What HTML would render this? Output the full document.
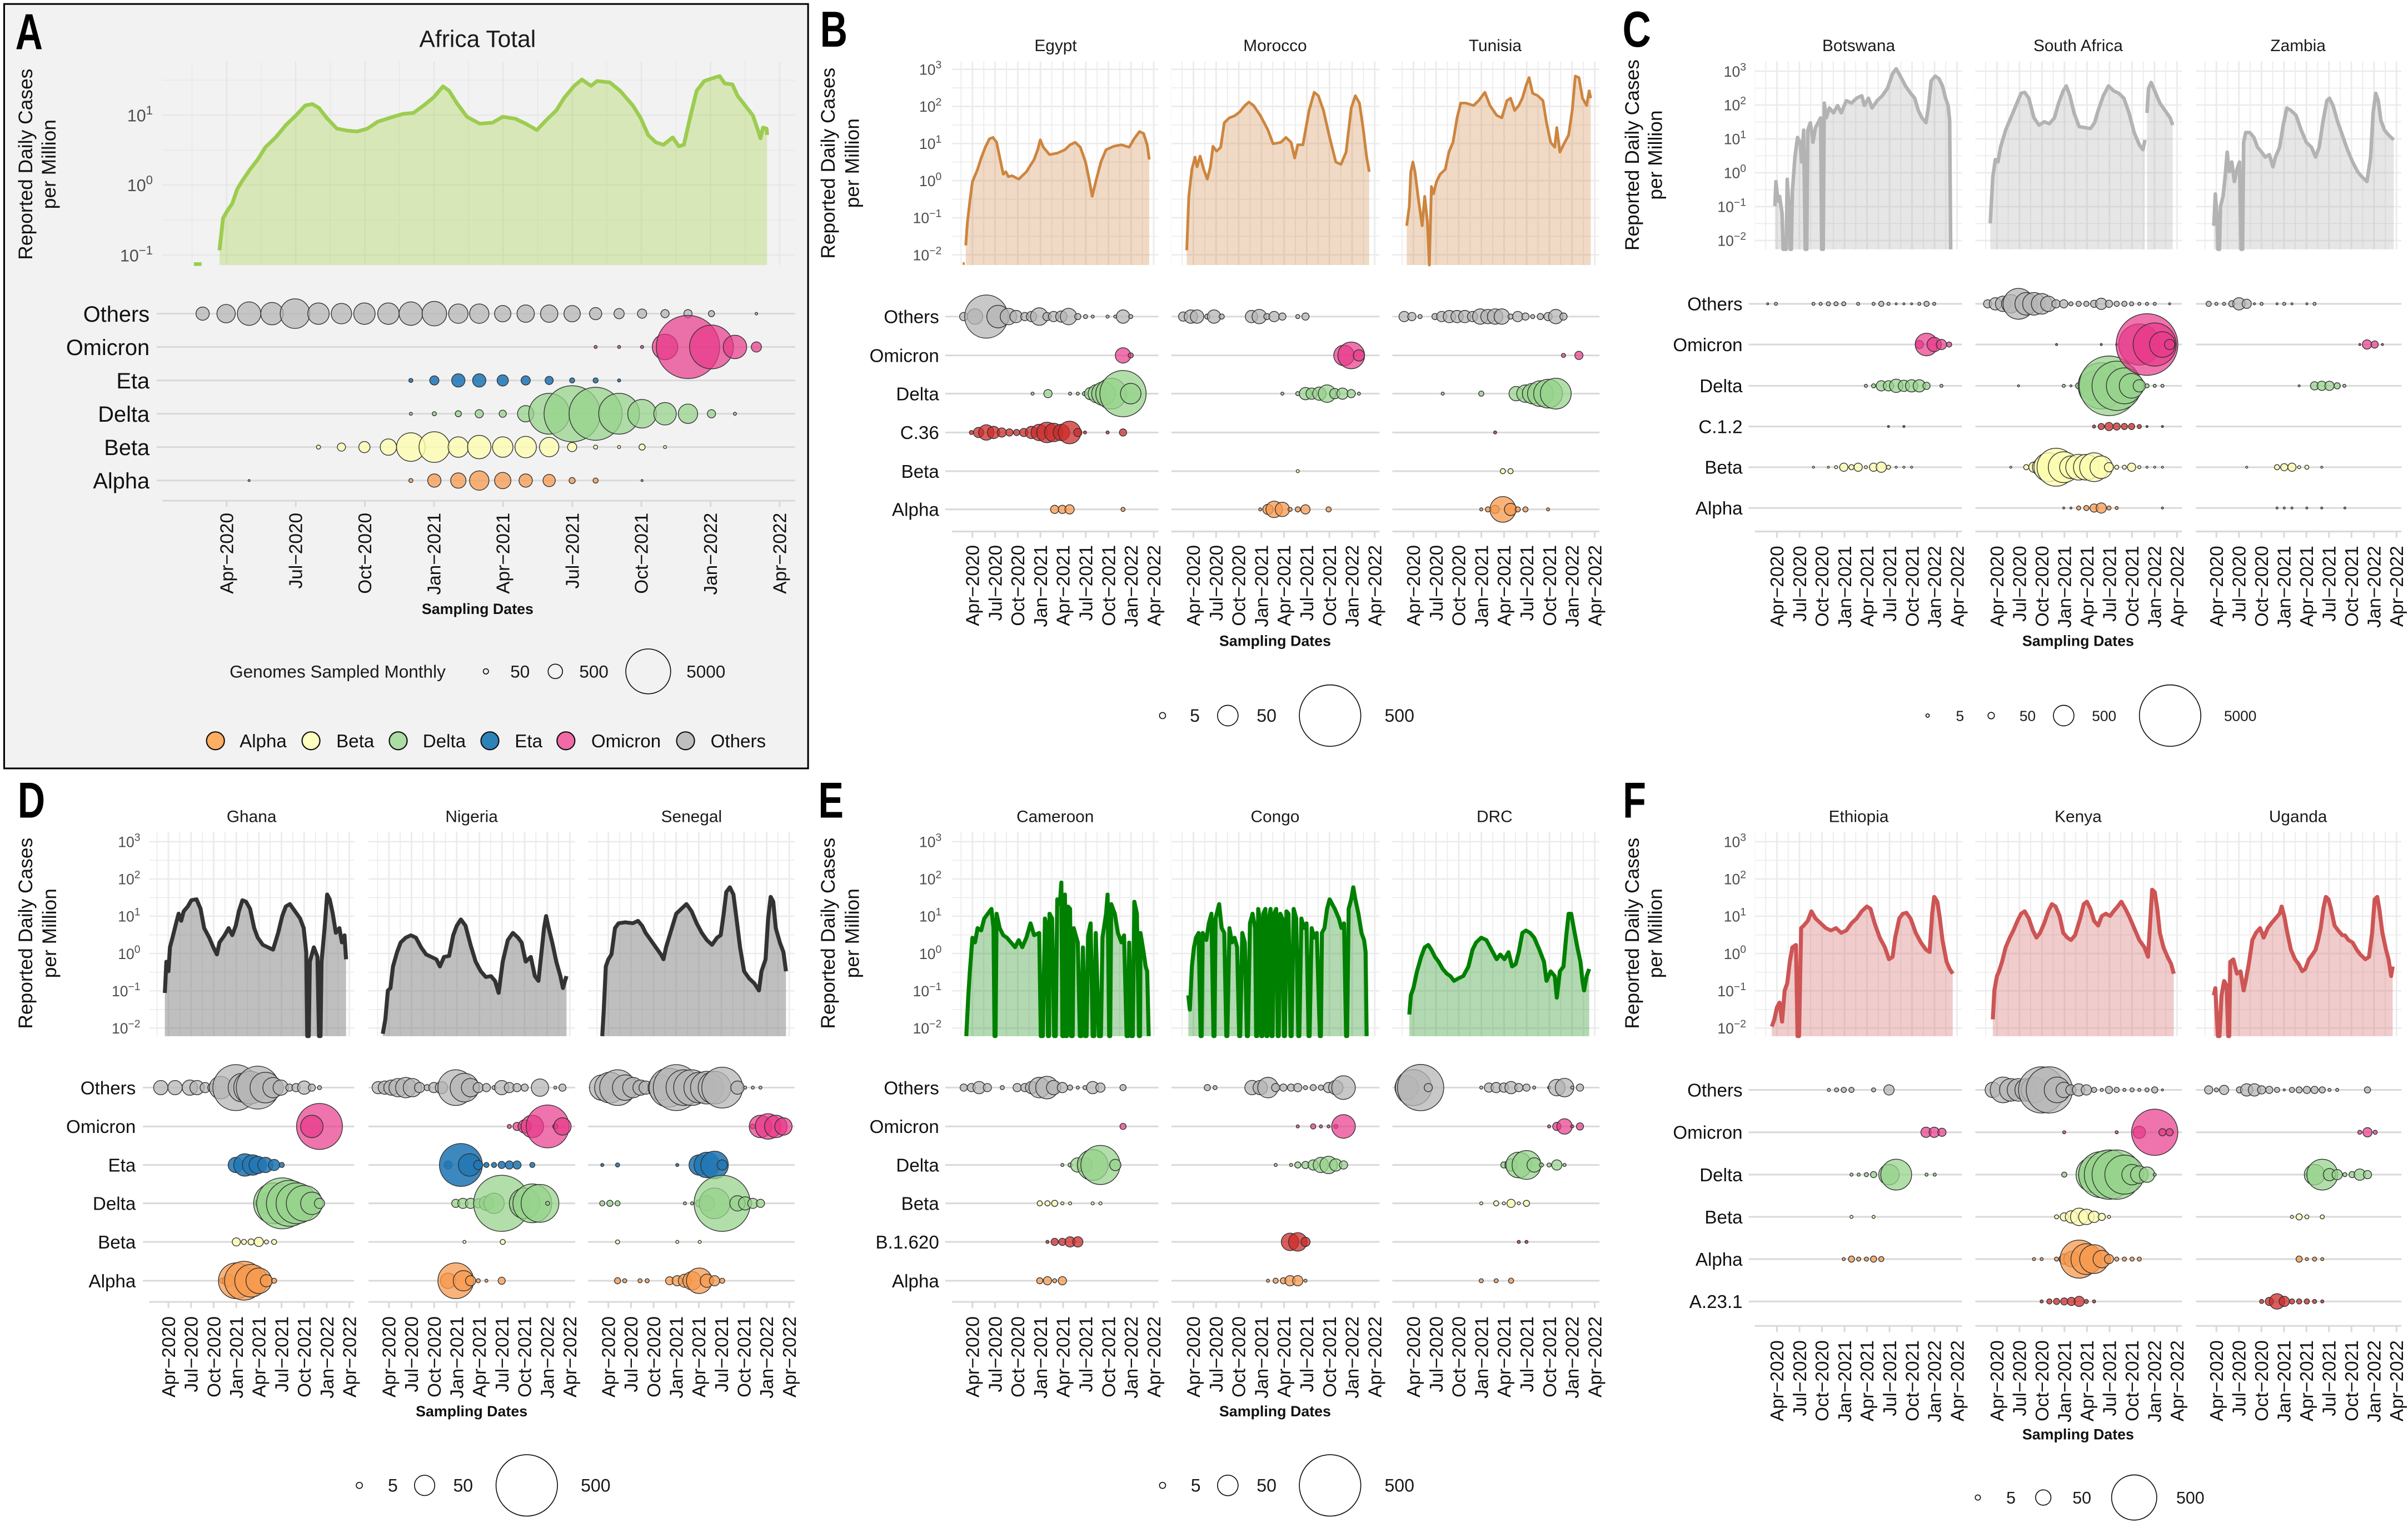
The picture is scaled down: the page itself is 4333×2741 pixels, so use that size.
<!DOCTYPE html>
<html><head><meta charset="utf-8"><title>Africa variants</title>
<style>
html,body{margin:0;padding:0;background:#fff}
svg{display:block}
text{font-family:"Liberation Sans",Arial,Helvetica,sans-serif}
.bb circle{stroke:#333;stroke-width:1.5}
.lg circle{stroke:#111;stroke-width:.6;fill:none}
.xt text{font-size:12.1px;fill:#111}
.yt text{font-size:9.6px;fill:#4d4d4d}
.rl text{font-size:12px;fill:#111}
.ft{font-size:10.8px;fill:#1a1a1a}
.sd{font-size:9.7px;font-weight:bold;fill:#111}
.yl{font-size:12.8px;fill:#111}
.pl{font-size:33px;font-weight:bold;fill:#000}
</style></head><body>
<svg xmlns="http://www.w3.org/2000/svg" width="4333" height="2741" viewBox="0 0 1568 992" preserveAspectRatio="none">
<defs>
<pattern id="pA" width="135.45" height="142.5" patternUnits="userSpaceOnUse"><g fill="#e6e6e6"><rect x="-1.3" width="2.6" height="142.5"/><rect x="134.15" width="2.6" height="142.5"/><rect x="67.0" width="1.4" height="142.5"/><rect y="-1.3" height="2.6" width="135.45"/><rect y="141.2" height="2.6" width="135.45"/><rect y="70.55" height="1.4" width="135.45"/></g></pattern>
<pattern id="pB" width="44.1" height="75.6" patternUnits="userSpaceOnUse"><g fill="#ebebeb"><rect x="-1.5" width="3" height="75.6"/><rect x="42.6" width="3" height="75.6"/><rect x="21.15" width="1.8" height="75.6"/><rect y="-1.5" height="3" width="44.1"/><rect y="74.1" height="3" width="44.1"/><rect y="36.9" height="1.8" width="44.1"/></g></pattern>
<pattern id="pC" width="43.8" height="69" patternUnits="userSpaceOnUse"><g fill="#ebebeb"><rect x="-1.5" width="3" height="69"/><rect x="42.3" width="3" height="69"/><rect x="21.0" width="1.8" height="69"/><rect y="-1.5" height="3" width="43.8"/><rect y="67.5" height="3" width="43.8"/><rect y="33.6" height="1.8" width="43.8"/></g></pattern>
<pattern id="pD" width="44.31" height="77.6" patternUnits="userSpaceOnUse"><g fill="#ebebeb"><rect x="-1.5" width="3" height="77.6"/><rect x="42.81" width="3" height="77.6"/><rect x="21.25" width="1.8" height="77.6"/><rect y="-1.5" height="3" width="44.31"/><rect y="76.1" height="3" width="44.31"/><rect y="37.9" height="1.8" width="44.31"/></g></pattern>
<pattern id="pE" width="44.1" height="77.6" patternUnits="userSpaceOnUse"><g fill="#ebebeb"><rect x="-1.5" width="3" height="77.6"/><rect x="42.6" width="3" height="77.6"/><rect x="21.15" width="1.8" height="77.6"/><rect y="-1.5" height="3" width="44.1"/><rect y="76.1" height="3" width="44.1"/><rect y="37.9" height="1.8" width="44.1"/></g></pattern>
<pattern id="pF" width="43.8" height="77.6" patternUnits="userSpaceOnUse"><g fill="#ebebeb"><rect x="-1.5" width="3" height="77.6"/><rect x="42.3" width="3" height="77.6"/><rect x="21.0" width="1.8" height="77.6"/><rect y="-1.5" height="3" width="43.8"/><rect y="76.1" height="3" width="43.8"/><rect y="37.9" height="1.8" width="43.8"/></g></pattern>
</defs>
<rect width="1568" height="992" fill="#fff"/>
<rect x="2.7" y="2.6" width="523.5" height="497.9" fill="#f2f2f2" stroke="#000" stroke-width="1.1"/>

<!-- ================= PANEL A ================= -->
<g transform="scale(0.33234,0.31969)">
<g transform="translate(444,377)"><rect x="-126" y="-252" width="1240" height="415" fill="url(#pA)"/></g>
<path d="M380,538H395" stroke="#9ccc50" stroke-width="7.5"/>
<polygon fill="#9acd32" fill-opacity=".3" points="430,510 437,445 445,430 455,415 465,385 475,368 490,345 505,325 520,300 540,280 560,255 580,235 598,215 612,212 625,220 640,240 660,262 680,266 700,268 720,262 740,248 770,238 790,232 810,230 830,215 850,198 868,176 880,185 895,210 915,238 940,252 965,250 985,238 1010,242 1030,252 1052,265 1070,245 1090,225 1105,200 1125,175 1140,162 1158,175 1170,165 1195,168 1215,185 1240,215 1255,240 1270,275 1285,290 1300,295 1318,280 1330,298 1340,295 1352,240 1365,185 1380,165 1400,158 1410,155 1420,170 1435,172 1445,195 1460,215 1475,235 1485,265 1490,282 1495,260 1502,262 1503,275 1503,540 430,540"/>
<polyline fill="none" stroke="#9ccc50" stroke-width="7.5" stroke-linejoin="round" points="430,510 437,445 445,430 455,415 465,385 475,368 490,345 505,325 520,300 540,280 560,255 580,235 598,215 612,212 625,220 640,240 660,262 680,266 700,268 720,262 740,248 770,238 790,232 810,230 830,215 850,198 868,176 880,185 895,210 915,238 940,252 965,250 985,238 1010,242 1030,252 1052,265 1070,245 1090,225 1105,200 1125,175 1140,162 1158,175 1170,165 1195,168 1215,185 1240,215 1255,240 1270,275 1285,290 1300,295 1318,280 1330,298 1340,295 1352,240 1365,185 1380,165 1400,158 1410,155 1420,170 1435,172 1445,195 1460,215 1475,235 1485,265 1490,282 1495,260 1502,262 1503,275"/>
</g>
<g class="bb" transform="scale(0.33234)">
<path fill="none" stroke="#d9d9d9" stroke-width="3.3" d="M307,614.7H1558M307,680H1558M307,745.6H1558M307,810.9H1558M307,876.2H1558M307,941.8H1558M318,981.3H1558M444,981.3v12M579.5,981.3v12M714.9,981.3v12M850.4,981.3v12M985.8,981.3v12M1121.3,981.3v12M1256.7,981.3v12M1392.2,981.3v12M1527.6,981.3v12"/>
<g fill="#b6b6b6" fill-opacity=".75"><circle cx="397" cy="614.7" r="13"/><circle cx="443" cy="614.7" r="18"/><circle cx="488" cy="614.7" r="23"/><circle cx="533" cy="614.7" r="22"/><circle cx="578" cy="614.7" r="29"/><circle cx="624" cy="614.7" r="21"/><circle cx="669" cy="614.7" r="20"/><circle cx="714" cy="614.7" r="21"/><circle cx="761" cy="614.7" r="21"/><circle cx="805" cy="614.7" r="23"/><circle cx="851" cy="614.7" r="24"/><circle cx="898" cy="614.7" r="19"/><circle cx="939" cy="614.7" r="19"/><circle cx="985" cy="614.7" r="16"/><circle cx="1030" cy="614.7" r="17"/><circle cx="1076" cy="614.7" r="17"/><circle cx="1121" cy="614.7" r="16"/><circle cx="1167" cy="614.7" r="12"/><circle cx="1213" cy="614.7" r="10"/><circle cx="1258" cy="614.7" r="9"/><circle cx="1303" cy="614.7" r="8"/><circle cx="1348" cy="614.7" r="8"/><circle cx="1394" cy="614.7" r="6"/><circle cx="1482" cy="614.7" r="2.5"/></g>
<g fill="#2277b5" fill-opacity=".88"><circle cx="805" cy="745.6" r="4"/><circle cx="851" cy="745.6" r="9"/><circle cx="898" cy="745.6" r="13"/><circle cx="939" cy="745.6" r="13"/><circle cx="985" cy="745.6" r="11"/><circle cx="1030" cy="745.6" r="9"/><circle cx="1076" cy="745.6" r="8"/><circle cx="1121" cy="745.6" r="5"/><circle cx="1167" cy="745.6" r="5"/><circle cx="1213" cy="745.6" r="3"/></g>
<g fill="#97d38c" fill-opacity=".75"><circle cx="805" cy="810.9" r="3"/><circle cx="851" cy="810.9" r="4"/><circle cx="898" cy="810.9" r="6"/><circle cx="939" cy="810.9" r="8"/><circle cx="985" cy="810.9" r="7"/><circle cx="1030" cy="810.9" r="16"/><circle cx="1076" cy="810.9" r="40"/><circle cx="1121" cy="810.9" r="55"/><circle cx="1167" cy="810.9" r="52"/><circle cx="1213" cy="810.9" r="40"/><circle cx="1258" cy="810.9" r="28"/><circle cx="1303" cy="810.9" r="22"/><circle cx="1348" cy="810.9" r="19"/><circle cx="1394" cy="810.9" r="8"/><circle cx="1440" cy="810.9" r="3"/></g>
<g fill="#fcfcb0" fill-opacity=".8"><circle cx="624" cy="876.2" r="4"/><circle cx="669" cy="876.2" r="8"/><circle cx="714" cy="876.2" r="11"/><circle cx="761" cy="876.2" r="16"/><circle cx="805" cy="876.2" r="28"/><circle cx="851" cy="876.2" r="30"/><circle cx="898" cy="876.2" r="20"/><circle cx="939" cy="876.2" r="23"/><circle cx="985" cy="876.2" r="20"/><circle cx="1030" cy="876.2" r="21"/><circle cx="1076" cy="876.2" r="19"/><circle cx="1121" cy="876.2" r="9"/><circle cx="1167" cy="876.2" r="4"/><circle cx="1213" cy="876.2" r="3"/><circle cx="1258" cy="876.2" r="6"/><circle cx="1303" cy="876.2" r="3"/></g>
<g fill="#f79a4e" fill-opacity=".75"><circle cx="488" cy="941.8" r="2"/><circle cx="805" cy="941.8" r="4"/><circle cx="851" cy="941.8" r="13"/><circle cx="898" cy="941.8" r="15"/><circle cx="939" cy="941.8" r="19"/><circle cx="985" cy="941.8" r="16"/><circle cx="1030" cy="941.8" r="13"/><circle cx="1076" cy="941.8" r="12"/><circle cx="1121" cy="941.8" r="6"/><circle cx="1167" cy="941.8" r="5"/><circle cx="1258" cy="941.8" r="2"/></g>
<g fill="#e83889" fill-opacity=".7"><circle cx="1167" cy="680" r="3"/><circle cx="1213" cy="680" r="3"/><circle cx="1258" cy="680" r="3"/><circle cx="1303" cy="680" r="25"/><circle cx="1348" cy="680" r="62"/><circle cx="1394" cy="680" r="43"/><circle cx="1440" cy="680" r="23"/><circle cx="1482" cy="680" r="10"/></g>
</g>
<text class="pl" transform="translate(10,32) scale(0.75,1)">A</text>
<text x="311" y="30.5" text-anchor="middle" style="font-size:15.4px;fill:#1a1a1a">Africa Total</text>
<text class="yl" text-anchor="middle" transform="translate(20.9,107) rotate(-90)">Reported Daily Cases</text>
<text class="yl" text-anchor="middle" transform="translate(36.2,107) rotate(-90)">per Million</text>
<g text-anchor="end" style="font-size:11px;fill:#4d4d4d"><text x="99.5" y="79.1">10<tspan dy="-4.5" font-size="8">1</tspan></text><text x="99.5" y="124.5">10<tspan dy="-4.5" font-size="8">0</tspan></text><text x="99.5" y="170.2">10<tspan dy="-4.5" font-size="8">−1</tspan></text></g>
<g text-anchor="end" style="font-size:14.4px;fill:#111"><text x="97.4" y="209.5">Others</text><text x="97.4" y="231.2">Omicron</text><text x="97.4" y="253">Eta</text><text x="97.4" y="274.7">Delta</text><text x="97.4" y="296.4">Beta</text><text x="97.4" y="318.2">Alpha</text></g>
<g class="xt" text-anchor="end"><text transform="translate(147.5,334) rotate(-90)" dy=".35em">Apr−2020</text><text transform="translate(192.5,334) rotate(-90)" dy=".35em">Jul−2020</text><text transform="translate(237.5,334) rotate(-90)" dy=".35em">Oct−2020</text><text transform="translate(282.5,334) rotate(-90)" dy=".35em">Jan−2021</text><text transform="translate(327.5,334) rotate(-90)" dy=".35em">Apr−2021</text><text transform="translate(372.6,334) rotate(-90)" dy=".35em">Jul−2021</text><text transform="translate(417.6,334) rotate(-90)" dy=".35em">Oct−2021</text><text transform="translate(462.6,334) rotate(-90)" dy=".35em">Jan−2022</text><text transform="translate(507.6,334) rotate(-90)" dy=".35em">Apr−2022</text></g>
<text class="sd" x="311" y="400" text-anchor="middle">Sampling Dates</text>
<g class="lg" style="font-size:11.4px;fill:#1a1a1a"><text x="149.5" y="441.4">Genomes Sampled Monthly</text><circle cx="316.4" cy="437.3" r="1.7"/><text x="332.3" y="441.4">50</text><circle cx="361.6" cy="437.3" r="4.7"/><text x="377.2" y="441.4">500</text><circle cx="422.1" cy="437.3" r="14.6"/><text x="447" y="441.4">5000</text></g>
<g stroke="#111" stroke-width=".8"><circle cx="140.3" cy="482.5" r="5.8" fill="#fdae61"/><circle cx="202.5" cy="482.5" r="5.8" fill="#ffffbf"/><circle cx="259.3" cy="482.5" r="5.8" fill="#abdda4"/><circle cx="319" cy="482.5" r="5.8" fill="#2b83ba"/><circle cx="368.5" cy="482.5" r="5.8" fill="#f06aa8"/><circle cx="446.4" cy="482.5" r="5.8" fill="#bebebe"/></g>
<g style="font-size:12px;fill:#111"><text x="156" y="486.8">Alpha</text><text x="219" y="486.8">Beta</text><text x="275.3" y="486.8">Delta</text><text x="335.2" y="486.8">Eta</text><text x="385" y="486.8">Omicron</text><text x="462.7" y="486.8">Others</text></g>

<!-- ================= PANEL B ================= -->
<g transform="translate(521.1,0) scale(0.33467,0.31969)">
<g transform="translate(335,368)"><rect x="-40" y="-243" width="402" height="415" fill="url(#pB)"/></g>
<g transform="translate(765,368)"><rect x="-43" y="-243" width="405" height="415" fill="url(#pB)"/></g>
<g transform="translate(1193,368)"><rect x="-41" y="-243" width="403" height="415" fill="url(#pB)"/></g>
<g fill="#cd853f" fill-opacity=".3">
<polygon points="322,500 325,455 330,410 335,370 345,345 352,322 360,300 368,283 375,280 382,290 390,330 395,355 400,350 405,360 412,358 425,365 440,350 455,325 462,305 467,285 473,300 485,315 500,312 515,305 525,295 535,290 545,300 555,330 562,365 568,400 575,370 585,330 595,305 610,298 625,295 640,300 650,282 660,268 668,272 675,295 679,325 679,540 322,540"/>
<polygon points="752,510 756,400 762,345 768,320 772,340 778,318 785,345 792,365 798,340 803,298 810,308 818,300 825,250 835,240 845,236 855,228 865,215 873,208 882,215 895,235 910,265 920,293 935,290 945,280 955,290 962,322 968,295 978,295 990,225 1000,188 1008,195 1018,225 1030,280 1042,330 1052,335 1062,310 1072,220 1080,195 1088,210 1095,260 1102,320 1107,350 1107,540 752,540"/>
<polygon points="1180,460 1185,420 1188,350 1192,330 1196,350 1202,400 1210,460 1215,400 1220,450 1224,540 1228,380 1232,395 1238,370 1245,355 1255,345 1262,310 1270,290 1278,240 1285,210 1295,210 1310,215 1320,205 1332,188 1342,215 1355,235 1365,240 1375,205 1382,200 1390,225 1398,215 1405,200 1412,175 1418,158 1425,190 1435,195 1445,205 1452,250 1460,290 1468,300 1472,260 1478,310 1485,295 1495,275 1502,225 1508,155 1515,158 1522,200 1530,215 1535,185 1538,200 1538,540 1180,540"/>
</g>
<g fill="none" stroke="#cd853f" stroke-width="5.4" stroke-linejoin="round">
<path d="M316,537h4"/>
<polyline points="322,500 325,455 330,410 335,370 345,345 352,322 360,300 368,283 375,280 382,290 390,330 395,355 400,350 405,360 412,358 425,365 440,350 455,325 462,305 467,285 473,300 485,315 500,312 515,305 525,295 535,290 545,300 555,330 562,365 568,400 575,370 585,330 595,305 610,298 625,295 640,300 650,282 660,268 668,272 675,295 679,325"/>
<polyline points="752,510 756,400 762,345 768,320 772,340 778,318 785,345 792,365 798,340 803,298 810,308 818,300 825,250 835,240 845,236 855,228 865,215 873,208 882,215 895,235 910,265 920,293 935,290 945,280 955,290 962,322 968,295 978,295 990,225 1000,188 1008,195 1018,225 1030,280 1042,330 1052,335 1062,310 1072,220 1080,195 1088,210 1095,260 1102,320 1107,350"/>
<polyline points="1180,460 1185,420 1188,350 1192,330 1196,350 1202,400 1210,460 1215,400 1220,450 1224,540 1228,380 1232,395 1238,370 1245,355 1255,345 1262,310 1270,290 1278,240 1285,210 1295,210 1310,215 1320,205 1332,188 1342,215 1355,235 1365,240 1375,205 1382,200 1390,225 1398,215 1405,200 1412,175 1418,158 1425,190 1435,195 1445,205 1452,250 1460,290 1468,300 1472,260 1478,310 1485,295 1495,275 1502,225 1508,155 1515,158 1522,200 1530,215 1535,185 1538,200"/>
</g>
</g>
<g class="bb" transform="translate(521.1,0) scale(0.33467)">
<path fill="none" stroke="#d9d9d9" stroke-width="3.3" d="M282,616.1H697M722,616.1H1127M1152,616.1H1555M282,691.7H697M722,691.7H1127M1152,691.7H1555M282,766.1H697M722,766.1H1127M1152,766.1H1555M282,841.7H697M722,841.7H1127M1152,841.7H1555M282,917H697M722,917H1127M1152,917H1555M282,991.4H697M722,991.4H1127M1152,991.4H1555M295,1034.4H697M722,1034.4H1127M1152,1034.4H1555M335,1034.4v12M379.1,1034.4v12M423.2,1034.4v12M467.3,1034.4v12M511.4,1034.4v12M555.5,1034.4v12M599.6,1034.4v12M643.7,1034.4v12M687.8,1034.4v12M765,1034.4v12M809.1,1034.4v12M853.2,1034.4v12M897.3,1034.4v12M941.4,1034.4v12M985.5,1034.4v12M1029.6,1034.4v12M1073.7,1034.4v12M1117.8,1034.4v12M1193,1034.4v12M1237.1,1034.4v12M1281.2,1034.4v12M1325.3,1034.4v12M1369.4,1034.4v12M1413.5,1034.4v12M1457.6,1034.4v12M1501.7,1034.4v12M1545.8,1034.4v12"/>
<g fill="#b6b6b6" fill-opacity=".75"><circle cx="318" cy="616.1" r="8"/><circle cx="340" cy="616.1" r="15"/><circle cx="362" cy="616.1" r="42"/><circle cx="385" cy="616.1" r="22"/><circle cx="405" cy="616.1" r="16"/><circle cx="420" cy="616.1" r="12"/><circle cx="437" cy="616.1" r="8"/><circle cx="450" cy="616.1" r="10"/><circle cx="465" cy="616.1" r="17"/><circle cx="480" cy="616.1" r="8"/><circle cx="493" cy="616.1" r="10"/><circle cx="508" cy="616.1" r="11"/><circle cx="522" cy="616.1" r="16"/><circle cx="540" cy="616.1" r="6"/><circle cx="555" cy="616.1" r="4"/><circle cx="569" cy="616.1" r="3"/><circle cx="598" cy="616.1" r="3"/><circle cx="613" cy="616.1" r="3"/><circle cx="628" cy="616.1" r="13"/><circle cx="643" cy="616.1" r="4"/>
<circle cx="745" cy="616.1" r="9"/><circle cx="760" cy="616.1" r="13"/><circle cx="772" cy="616.1" r="13"/><circle cx="792" cy="616.1" r="5"/><circle cx="805" cy="616.1" r="13"/><circle cx="820" cy="616.1" r="5"/><circle cx="878" cy="616.1" r="12"/><circle cx="893" cy="616.1" r="14"/><circle cx="908" cy="616.1" r="6"/><circle cx="922" cy="616.1" r="10"/><circle cx="938" cy="616.1" r="7"/><circle cx="968" cy="616.1" r="4"/><circle cx="983" cy="616.1" r="7"/>
<circle cx="1175" cy="616.1" r="10"/><circle cx="1190" cy="616.1" r="8"/><circle cx="1206" cy="616.1" r="4"/><circle cx="1235" cy="616.1" r="6"/><circle cx="1248" cy="616.1" r="10"/><circle cx="1263" cy="616.1" r="12"/><circle cx="1278" cy="616.1" r="12"/><circle cx="1293" cy="616.1" r="12"/><circle cx="1308" cy="616.1" r="10"/><circle cx="1323" cy="616.1" r="15"/><circle cx="1338" cy="616.1" r="14"/><circle cx="1352" cy="616.1" r="15"/><circle cx="1365" cy="616.1" r="15"/><circle cx="1382" cy="616.1" r="5"/><circle cx="1396" cy="616.1" r="10"/><circle cx="1411" cy="616.1" r="7"/><circle cx="1425" cy="616.1" r="4"/><circle cx="1440" cy="616.1" r="6"/><circle cx="1455" cy="616.1" r="8"/><circle cx="1470" cy="616.1" r="14"/><circle cx="1485" cy="616.1" r="7"/></g>
<g fill="#e83889" fill-opacity=".7"><circle cx="628" cy="691.7" r="15"/><circle cx="643" cy="691.7" r="5"/><circle cx="1058" cy="691.7" r="20"/><circle cx="1072" cy="691.7" r="26"/><circle cx="1087" cy="691.7" r="11"/><circle cx="1485" cy="691.7" r="4"/><circle cx="1515" cy="691.7" r="8"/></g>
<g fill="#97d38c" fill-opacity=".75"><circle cx="452" cy="766.1" r="3"/><circle cx="482" cy="766.1" r="8"/><circle cx="525" cy="766.1" r="3"/><circle cx="540" cy="766.1" r="3"/><circle cx="553" cy="766.1" r="4"/><circle cx="565" cy="766.1" r="12"/><circle cx="578" cy="766.1" r="18"/><circle cx="590" cy="766.1" r="23"/><circle cx="605" cy="766.1" r="30"/><circle cx="628" cy="766.1" r="45"/><circle cx="643" cy="766.1" r="20"/>
<circle cx="938" cy="766.1" r="3"/><circle cx="968" cy="766.1" r="4"/><circle cx="983" cy="766.1" r="12"/><circle cx="995" cy="766.1" r="11"/><circle cx="1010" cy="766.1" r="13"/><circle cx="1025" cy="766.1" r="17"/><circle cx="1040" cy="766.1" r="10"/><circle cx="1055" cy="766.1" r="11"/><circle cx="1072" cy="766.1" r="8"/><circle cx="1087" cy="766.1" r="3"/>
<circle cx="1250" cy="766.1" r="3"/><circle cx="1325" cy="766.1" r="5"/><circle cx="1393" cy="766.1" r="14"/><circle cx="1411" cy="766.1" r="17"/><circle cx="1425" cy="766.1" r="20"/><circle cx="1440" cy="766.1" r="25"/><circle cx="1455" cy="766.1" r="28"/><circle cx="1470" cy="766.1" r="30"/></g>
<g fill="#cc2b2a" fill-opacity=".75"><circle cx="333" cy="841.7" r="4"/><circle cx="347" cy="841.7" r="10"/><circle cx="362" cy="841.7" r="15"/><circle cx="376" cy="841.7" r="12"/><circle cx="392" cy="841.7" r="9"/><circle cx="407" cy="841.7" r="7"/><circle cx="421" cy="841.7" r="6"/><circle cx="435" cy="841.7" r="8"/><circle cx="450" cy="841.7" r="12"/><circle cx="465" cy="841.7" r="16"/><circle cx="480" cy="841.7" r="20"/><circle cx="493" cy="841.7" r="18"/><circle cx="508" cy="841.7" r="16"/><circle cx="524" cy="841.7" r="22"/><circle cx="540" cy="841.7" r="8"/><circle cx="554" cy="841.7" r="3"/><circle cx="598" cy="841.7" r="3"/><circle cx="628" cy="841.7" r="7"/><circle cx="1352" cy="841.7" r="3"/></g>
<g fill="#fcfcb0" fill-opacity=".8"><circle cx="968" cy="917" r="3"/><circle cx="1367" cy="917" r="5"/><circle cx="1382" cy="917" r="5"/></g>
<g fill="#f79a4e" fill-opacity=".75"><circle cx="495" cy="991.4" r="8"/><circle cx="510" cy="991.4" r="8"/><circle cx="524" cy="991.4" r="9"/><circle cx="628" cy="991.4" r="4"/>
<circle cx="895" cy="991.4" r="3"/><circle cx="910" cy="991.4" r="10"/><circle cx="922" cy="991.4" r="16"/><circle cx="938" cy="991.4" r="14"/><circle cx="953" cy="991.4" r="4"/><circle cx="968" cy="991.4" r="5"/><circle cx="983" cy="991.4" r="9"/><circle cx="1028" cy="991.4" r="5"/>
<circle cx="1325" cy="991.4" r="3"/><circle cx="1338" cy="991.4" r="5"/><circle cx="1352" cy="991.4" r="8"/><circle cx="1367" cy="991.4" r="25"/><circle cx="1382" cy="991.4" r="12"/><circle cx="1396" cy="991.4" r="5"/><circle cx="1411" cy="991.4" r="5"/><circle cx="1455" cy="991.4" r="3"/></g>
</g>
<text class="pl" transform="translate(534,30.4) scale(0.75,1)">B</text>
<g class="ft" text-anchor="middle"><text x="687.4" y="33.3">Egypt</text><text x="830.3" y="33.3">Morocco</text><text x="973.6" y="33.3">Tunisia</text></g>
<text class="yl" text-anchor="middle" transform="translate(543.6,106.3) rotate(-90)">Reported Daily Cases</text>
<text class="yl" text-anchor="middle" transform="translate(559.2,106.3) rotate(-90)">per Million</text>
<g class="yt" text-anchor="end"><text x="613.1" y="48.6">10<tspan dy="-4" font-size="7">3</tspan></text><text x="613.1" y="72.8">10<tspan dy="-4" font-size="7">2</tspan></text><text x="613.1" y="97">10<tspan dy="-4" font-size="7">1</tspan></text><text x="613.1" y="121.2">10<tspan dy="-4" font-size="7">0</tspan></text><text x="613.1" y="145.3">10<tspan dy="-4" font-size="7">−1</tspan></text><text x="613.1" y="169.5">10<tspan dy="-4" font-size="7">−2</tspan></text></g>
<g class="rl" text-anchor="end"><text x="611.5" y="210.5">Others</text><text x="611.5" y="235.8">Omicron</text><text x="611.5" y="260.7">Delta</text><text x="611.5" y="286">C.36</text><text x="611.5" y="311.2">Beta</text><text x="611.5" y="336.1">Alpha</text></g>
<g class="xt" text-anchor="end">
<text transform="translate(633.2,355) rotate(-90)" dy=".35em">Apr−2020</text><text transform="translate(648,355) rotate(-90)" dy=".35em">Jul−2020</text><text transform="translate(662.7,355) rotate(-90)" dy=".35em">Oct−2020</text><text transform="translate(677.5,355) rotate(-90)" dy=".35em">Jan−2021</text><text transform="translate(692.2,355) rotate(-90)" dy=".35em">Apr−2021</text><text transform="translate(707,355) rotate(-90)" dy=".35em">Jul−2021</text><text transform="translate(721.8,355) rotate(-90)" dy=".35em">Oct−2021</text><text transform="translate(736.5,355) rotate(-90)" dy=".35em">Jan−2022</text><text transform="translate(751.3,355) rotate(-90)" dy=".35em">Apr−2022</text>
<text transform="translate(777.1,355) rotate(-90)" dy=".35em">Apr−2020</text><text transform="translate(791.9,355) rotate(-90)" dy=".35em">Jul−2020</text><text transform="translate(806.6,355) rotate(-90)" dy=".35em">Oct−2020</text><text transform="translate(821.4,355) rotate(-90)" dy=".35em">Jan−2021</text><text transform="translate(836.1,355) rotate(-90)" dy=".35em">Apr−2021</text><text transform="translate(850.9,355) rotate(-90)" dy=".35em">Jul−2021</text><text transform="translate(865.7,355) rotate(-90)" dy=".35em">Oct−2021</text><text transform="translate(880.4,355) rotate(-90)" dy=".35em">Jan−2022</text><text transform="translate(895.2,355) rotate(-90)" dy=".35em">Apr−2022</text>
<text transform="translate(920.4,355) rotate(-90)" dy=".35em">Apr−2020</text><text transform="translate(935.2,355) rotate(-90)" dy=".35em">Jul−2020</text><text transform="translate(949.9,355) rotate(-90)" dy=".35em">Oct−2020</text><text transform="translate(964.7,355) rotate(-90)" dy=".35em">Jan−2021</text><text transform="translate(979.4,355) rotate(-90)" dy=".35em">Apr−2021</text><text transform="translate(994.2,355) rotate(-90)" dy=".35em">Jul−2021</text><text transform="translate(1009,355) rotate(-90)" dy=".35em">Oct−2021</text><text transform="translate(1023.7,355) rotate(-90)" dy=".35em">Jan−2022</text><text transform="translate(1038.5,355) rotate(-90)" dy=".35em">Apr−2022</text></g>
<text class="sd" x="830.3" y="420.7" text-anchor="middle">Sampling Dates</text>
<g class="lg" style="font-size:11.6px;fill:#1a1a1a"><circle cx="757" cy="466.1" r="2"/><text x="774.8" y="470.2">5</text><circle cx="799.5" cy="466.1" r="6.7"/><text x="818.3" y="470.2">50</text><circle cx="866.1" cy="466.1" r="20"/><text x="901.6" y="470.2">500</text></g>

<!-- ================= PANEL C ================= -->
<g transform="translate(1043.3,0) scale(0.33467,0.31969)">
<g transform="translate(340,352)"><rect x="-43" y="-227" width="403" height="383" fill="url(#pC)"/></g>
<g transform="translate(768,352)"><rect x="-42" y="-227" width="402" height="383" fill="url(#pC)"/></g>
<g transform="translate(1195,352)"><rect x="-40" y="-227" width="400" height="383" fill="url(#pC)"/></g>
<g fill="#9a9a9a" fill-opacity=".25">
<polygon points="336,420 338,370 342,410 345,400 350,435 352,508 358,508 360,365 364,430 366,508 368,508 370,390 375,320 380,280 385,290 388,330 392,265 395,508 398,508 400,265 405,250 410,290 415,260 420,250 425,240 427,508 430,508 432,210 436,240 442,220 450,230 458,215 465,230 475,205 485,210 495,200 505,195 510,215 518,200 525,220 535,205 545,195 555,180 565,150 572,140 580,155 590,175 600,190 608,200 615,225 622,240 630,250 635,215 640,165 648,155 655,160 662,175 668,200 673,215 676,245 678,508 336,508"/>
<polygon points="755,455 760,360 765,325 770,330 775,300 785,265 795,240 805,215 815,190 822,188 830,200 840,240 850,255 860,248 870,252 880,240 888,210 897,185 903,175 910,195 918,230 928,258 940,260 950,262 958,250 965,225 975,195 985,175 995,185 1005,190 1015,200 1025,230 1035,270 1045,295 1052,305 1056,285 1056,508 755,508"/>
<polygon points="1060,230 1063,180 1068,168 1075,185 1085,210 1095,225 1105,240 1110,255 1110,508 1060,508"/>
<polygon points="1190,460 1193,395 1196,440 1198,508 1201,508 1203,420 1208,400 1212,360 1216,310 1220,350 1225,330 1230,370 1235,345 1240,330 1243,508 1246,508 1248,290 1252,270 1260,270 1268,280 1275,300 1283,310 1290,320 1298,315 1305,340 1310,320 1318,300 1325,255 1332,220 1340,225 1350,235 1360,265 1370,290 1380,300 1388,320 1395,300 1402,250 1410,205 1415,200 1422,215 1430,245 1440,275 1450,305 1460,330 1470,350 1478,360 1488,370 1495,320 1500,230 1505,190 1510,205 1515,245 1522,265 1530,275 1540,285 1540,508 1190,508"/>
</g>
<g fill="none" stroke="#b3b3b3" stroke-width="7" stroke-linejoin="round">
<polyline points="336,420 338,370 342,410 345,400 350,435 352,508 358,508 360,365 364,430 366,508 368,508 370,390 375,320 380,280 385,290 388,330 392,265 395,508 398,508 400,265 405,250 410,290 415,260 420,250 425,240 427,508 430,508 432,210 436,240 442,220 450,230 458,215 465,230 475,205 485,210 495,200 505,195 510,215 518,200 525,220 535,205 545,195 555,180 565,150 572,140 580,155 590,175 600,190 608,200 615,225 622,240 630,250 635,215 640,165 648,155 655,160 662,175 668,200 673,215 676,245 678,508"/>
<polyline points="755,455 760,360 765,325 770,330 775,300 785,265 795,240 805,215 815,190 822,188 830,200 840,240 850,255 860,248 870,252 880,240 888,210 897,185 903,175 910,195 918,230 928,258 940,260 950,262 958,250 965,225 975,195 985,175 995,185 1005,190 1015,200 1025,230 1035,270 1045,295 1052,305 1056,285"/>
<polyline points="1060,230 1063,180 1068,168 1075,185 1085,210 1095,225 1105,240 1110,255"/>
<polyline points="1190,460 1193,395 1196,440 1198,508 1201,508 1203,420 1208,400 1212,360 1216,310 1220,350 1225,330 1230,370 1235,345 1240,330 1243,508 1246,508 1248,290 1252,270 1260,270 1268,280 1275,300 1283,310 1290,320 1298,315 1305,340 1310,320 1318,300 1325,255 1332,220 1340,225 1350,235 1360,265 1370,290 1380,300 1388,320 1395,300 1402,250 1410,205 1415,200 1422,215 1430,245 1440,275 1450,305 1460,330 1470,350 1478,360 1488,370 1495,320 1500,230 1505,190 1510,205 1515,245 1522,265 1530,275 1540,285"/>
</g>
</g>
<g class="bb" transform="translate(1043.3,0) scale(0.33467)">
<path fill="none" stroke="#d9d9d9" stroke-width="3.3" d="M285,591.3H700M726,591.3H1128M1155,591.3H1555M285,670.5H700M726,670.5H1128M1155,670.5H1555M285,750.9H700M726,750.9H1128M1155,750.9H1555M285,830.1H700M726,830.1H1128M1155,830.1H1555M285,909.3H700M726,909.3H1128M1155,909.3H1555M285,988.7H700M726,988.7H1128M1155,988.7H1555M297,1034.4H700M726,1034.4H1128M1155,1034.4H1555M340,1034.4v12M383.8,1034.4v12M427.6,1034.4v12M471.4,1034.4v12M515.2,1034.4v12M559,1034.4v12M602.8,1034.4v12M646.6,1034.4v12M690.4,1034.4v12M768,1034.4v12M811.8,1034.4v12M855.6,1034.4v12M899.4,1034.4v12M943.2,1034.4v12M987,1034.4v12M1030.8,1034.4v12M1074.6,1034.4v12M1118.4,1034.4v12M1195,1034.4v12M1238.8,1034.4v12M1282.6,1034.4v12M1326.4,1034.4v12M1370.2,1034.4v12M1414,1034.4v12M1457.8,1034.4v12M1501.6,1034.4v12M1545.4,1034.4v12"/>
<g fill="#b6b6b6" fill-opacity=".75"><circle cx="322" cy="591.3" r="2"/><circle cx="338" cy="591.3" r="3"/><circle cx="411" cy="591.3" r="3"/><circle cx="425" cy="591.3" r="3"/><circle cx="440" cy="591.3" r="4"/><circle cx="455" cy="591.3" r="4"/><circle cx="470" cy="591.3" r="4"/><circle cx="498" cy="591.3" r="3"/><circle cx="528" cy="591.3" r="3"/><circle cx="543" cy="591.3" r="5"/><circle cx="557" cy="591.3" r="3"/><circle cx="572" cy="591.3" r="2"/><circle cx="587" cy="591.3" r="2"/><circle cx="602" cy="591.3" r="2"/><circle cx="617" cy="591.3" r="3"/><circle cx="631" cy="591.3" r="5"/><circle cx="646" cy="591.3" r="3"/>
<circle cx="750" cy="591.3" r="8"/><circle cx="765" cy="591.3" r="12"/><circle cx="780" cy="591.3" r="15"/><circle cx="795" cy="591.3" r="18"/><circle cx="810" cy="591.3" r="30"/><circle cx="825" cy="591.3" r="22"/><circle cx="840" cy="591.3" r="22"/><circle cx="855" cy="591.3" r="20"/><circle cx="868" cy="591.3" r="15"/><circle cx="883" cy="591.3" r="8"/><circle cx="898" cy="591.3" r="8"/><circle cx="912" cy="591.3" r="4"/><circle cx="927" cy="591.3" r="5"/><circle cx="942" cy="591.3" r="5"/><circle cx="957" cy="591.3" r="7"/><circle cx="971" cy="591.3" r="11"/><circle cx="986" cy="591.3" r="7"/><circle cx="1001" cy="591.3" r="5"/><circle cx="1016" cy="591.3" r="5"/><circle cx="1030" cy="591.3" r="4"/><circle cx="1045" cy="591.3" r="3"/><circle cx="1060" cy="591.3" r="3"/><circle cx="1075" cy="591.3" r="3"/><circle cx="1104" cy="591.3" r="2"/>
<circle cx="1180" cy="591.3" r="5"/><circle cx="1195" cy="591.3" r="3"/><circle cx="1210" cy="591.3" r="3"/><circle cx="1225" cy="591.3" r="6"/><circle cx="1239" cy="591.3" r="12"/><circle cx="1254" cy="591.3" r="9"/><circle cx="1269" cy="591.3" r="2"/><circle cx="1283" cy="591.3" r="3"/><circle cx="1313" cy="591.3" r="2"/><circle cx="1327" cy="591.3" r="3"/><circle cx="1342" cy="591.3" r="2"/><circle cx="1371" cy="591.3" r="2"/><circle cx="1386" cy="591.3" r="3"/></g>
<g fill="#97d38c" fill-opacity=".75"><circle cx="513" cy="750.9" r="3"/><circle cx="528" cy="750.9" r="4"/><circle cx="543" cy="750.9" r="10"/><circle cx="557" cy="750.9" r="10"/><circle cx="572" cy="750.9" r="13"/><circle cx="587" cy="750.9" r="11"/><circle cx="602" cy="750.9" r="12"/><circle cx="617" cy="750.9" r="12"/><circle cx="631" cy="750.9" r="7"/><circle cx="660" cy="750.9" r="3"/>
<circle cx="810" cy="750.9" r="2"/><circle cx="898" cy="750.9" r="3"/><circle cx="912" cy="750.9" r="2"/><circle cx="927" cy="750.9" r="6"/><circle cx="942" cy="750.9" r="10"/><circle cx="957" cy="750.9" r="28"/><circle cx="971" cy="750.9" r="45"/><circle cx="986" cy="750.9" r="58"/><circle cx="1001" cy="750.9" r="48"/><circle cx="1016" cy="750.9" r="35"/><circle cx="1030" cy="750.9" r="24"/><circle cx="1045" cy="750.9" r="12"/><circle cx="1060" cy="750.9" r="4"/><circle cx="1075" cy="750.9" r="3"/><circle cx="1090" cy="750.9" r="3"/>
<circle cx="1356" cy="750.9" r="2"/><circle cx="1386" cy="750.9" r="8"/><circle cx="1400" cy="750.9" r="9"/><circle cx="1415" cy="750.9" r="9"/><circle cx="1430" cy="750.9" r="6"/><circle cx="1444" cy="750.9" r="3"/></g>
<g fill="#cc2b2a" fill-opacity=".75"><circle cx="557" cy="830.1" r="2"/><circle cx="587" cy="830.1" r="2"/><circle cx="957" cy="830.1" r="3"/><circle cx="971" cy="830.1" r="6"/><circle cx="986" cy="830.1" r="8"/><circle cx="1001" cy="830.1" r="7"/><circle cx="1016" cy="830.1" r="6"/><circle cx="1030" cy="830.1" r="6"/><circle cx="1045" cy="830.1" r="4"/><circle cx="1060" cy="830.1" r="2"/><circle cx="1090" cy="830.1" r="2"/></g>
<g fill="#fcfcb0" fill-opacity=".8"><circle cx="411" cy="909.3" r="2"/><circle cx="440" cy="909.3" r="2"/><circle cx="455" cy="909.3" r="3"/><circle cx="470" cy="909.3" r="8"/><circle cx="485" cy="909.3" r="5"/><circle cx="498" cy="909.3" r="8"/><circle cx="513" cy="909.3" r="3"/><circle cx="528" cy="909.3" r="8"/><circle cx="543" cy="909.3" r="10"/><circle cx="557" cy="909.3" r="4"/><circle cx="572" cy="909.3" r="2"/><circle cx="587" cy="909.3" r="2"/><circle cx="602" cy="909.3" r="2"/>
<circle cx="795" cy="909.3" r="2"/><circle cx="825" cy="909.3" r="5"/><circle cx="840" cy="909.3" r="10"/><circle cx="855" cy="909.3" r="18"/><circle cx="868" cy="909.3" r="28"/><circle cx="883" cy="909.3" r="37"/><circle cx="898" cy="909.3" r="30"/><circle cx="912" cy="909.3" r="22"/><circle cx="927" cy="909.3" r="25"/><circle cx="942" cy="909.3" r="25"/><circle cx="957" cy="909.3" r="28"/><circle cx="971" cy="909.3" r="22"/><circle cx="986" cy="909.3" r="9"/><circle cx="1001" cy="909.3" r="4"/><circle cx="1016" cy="909.3" r="4"/><circle cx="1030" cy="909.3" r="8"/><circle cx="1045" cy="909.3" r="3"/><circle cx="1060" cy="909.3" r="2"/><circle cx="1075" cy="909.3" r="2"/><circle cx="1090" cy="909.3" r="2"/>
<circle cx="1254" cy="909.3" r="2"/><circle cx="1313" cy="909.3" r="5"/><circle cx="1327" cy="909.3" r="7"/><circle cx="1342" cy="909.3" r="8"/><circle cx="1356" cy="909.3" r="3"/><circle cx="1371" cy="909.3" r="4"/><circle cx="1400" cy="909.3" r="2"/></g>
<g fill="#f79a4e" fill-opacity=".75"><circle cx="898" cy="988.7" r="2"/><circle cx="912" cy="988.7" r="2"/><circle cx="927" cy="988.7" r="4"/><circle cx="942" cy="988.7" r="5"/><circle cx="957" cy="988.7" r="8"/><circle cx="971" cy="988.7" r="10"/><circle cx="986" cy="988.7" r="4"/><circle cx="1001" cy="988.7" r="3"/><circle cx="1090" cy="988.7" r="2"/>
<circle cx="1313" cy="988.7" r="2"/><circle cx="1327" cy="988.7" r="2"/><circle cx="1342" cy="988.7" r="2"/><circle cx="1371" cy="988.7" r="2"/><circle cx="1400" cy="988.7" r="2"/><circle cx="1445" cy="988.7" r="2"/></g>
<g fill="#e83889" fill-opacity=".7"><circle cx="617" cy="670.5" r="8"/><circle cx="631" cy="670.5" r="22"/><circle cx="646" cy="670.5" r="14"/><circle cx="660" cy="670.5" r="10"/><circle cx="675" cy="670.5" r="5"/>
<circle cx="884" cy="670.5" r="2"/><circle cx="971" cy="670.5" r="2"/><circle cx="1001" cy="670.5" r="2"/><circle cx="1045" cy="670.5" r="40"/><circle cx="1060" cy="670.5" r="60"/><circle cx="1075" cy="670.5" r="42"/><circle cx="1090" cy="670.5" r="25"/><circle cx="1104" cy="670.5" r="10"/>
<circle cx="1474" cy="670.5" r="2"/><circle cx="1488" cy="670.5" r="9"/><circle cx="1503" cy="670.5" r="7"/><circle cx="1518" cy="670.5" r="2"/></g>
</g>
<text class="pl" transform="translate(1056.5,30.4) scale(0.78,1)">C</text>
<g class="ft" text-anchor="middle"><text x="1210.3" y="33.3">Botswana</text><text x="1353.2" y="33.3">South Africa</text><text x="1496.4" y="33.3">Zambia</text></g>
<text class="yl" text-anchor="middle" transform="translate(1067.2,101) rotate(-90)">Reported Daily Cases</text>
<text class="yl" text-anchor="middle" transform="translate(1082.2,101) rotate(-90)">per Million</text>
<g class="yt" text-anchor="end"><text x="1137" y="49.9">10<tspan dy="-4" font-size="7">3</tspan></text><text x="1137" y="71.9">10<tspan dy="-4" font-size="7">2</tspan></text><text x="1137" y="94">10<tspan dy="-4" font-size="7">1</tspan></text><text x="1137" y="116">10<tspan dy="-4" font-size="7">0</tspan></text><text x="1137" y="138.1">10<tspan dy="-4" font-size="7">−1</tspan></text><text x="1137" y="160.1">10<tspan dy="-4" font-size="7">−2</tspan></text></g>
<g class="rl" text-anchor="end"><text x="1134.7" y="202.2">Others</text><text x="1134.7" y="228.7">Omicron</text><text x="1134.7" y="255.6">Delta</text><text x="1134.7" y="282.1">C.1.2</text><text x="1134.7" y="308.6">Beta</text><text x="1134.7" y="335.2">Alpha</text></g>
<g class="xt" text-anchor="end">
<text transform="translate(1157.1,355.5) rotate(-90)" dy=".35em">Apr−2020</text><text transform="translate(1171.8,355.5) rotate(-90)" dy=".35em">Jul−2020</text><text transform="translate(1186.4,355.5) rotate(-90)" dy=".35em">Oct−2020</text><text transform="translate(1201.1,355.5) rotate(-90)" dy=".35em">Jan−2021</text><text transform="translate(1215.7,355.5) rotate(-90)" dy=".35em">Apr−2021</text><text transform="translate(1230.4,355.5) rotate(-90)" dy=".35em">Jul−2021</text><text transform="translate(1245.1,355.5) rotate(-90)" dy=".35em">Oct−2021</text><text transform="translate(1259.7,355.5) rotate(-90)" dy=".35em">Jan−2022</text><text transform="translate(1274.4,355.5) rotate(-90)" dy=".35em">Apr−2022</text>
<text transform="translate(1300.3,355.5) rotate(-90)" dy=".35em">Apr−2020</text><text transform="translate(1315,355.5) rotate(-90)" dy=".35em">Jul−2020</text><text transform="translate(1329.6,355.5) rotate(-90)" dy=".35em">Oct−2020</text><text transform="translate(1344.3,355.5) rotate(-90)" dy=".35em">Jan−2021</text><text transform="translate(1358.9,355.5) rotate(-90)" dy=".35em">Apr−2021</text><text transform="translate(1373.6,355.5) rotate(-90)" dy=".35em">Jul−2021</text><text transform="translate(1388.3,355.5) rotate(-90)" dy=".35em">Oct−2021</text><text transform="translate(1402.9,355.5) rotate(-90)" dy=".35em">Jan−2022</text><text transform="translate(1417.6,355.5) rotate(-90)" dy=".35em">Apr−2022</text>
<text transform="translate(1443.2,355.5) rotate(-90)" dy=".35em">Apr−2020</text><text transform="translate(1457.9,355.5) rotate(-90)" dy=".35em">Jul−2020</text><text transform="translate(1472.5,355.5) rotate(-90)" dy=".35em">Oct−2020</text><text transform="translate(1487.2,355.5) rotate(-90)" dy=".35em">Jan−2021</text><text transform="translate(1501.8,355.5) rotate(-90)" dy=".35em">Apr−2021</text><text transform="translate(1516.5,355.5) rotate(-90)" dy=".35em">Jul−2021</text><text transform="translate(1531.2,355.5) rotate(-90)" dy=".35em">Oct−2021</text><text transform="translate(1545.8,355.5) rotate(-90)" dy=".35em">Jan−2022</text><text transform="translate(1560.5,355.5) rotate(-90)" dy=".35em">Apr−2022</text></g>
<text class="sd" x="1353.2" y="420.7" text-anchor="middle">Sampling Dates</text>
<g class="lg" style="font-size:9.5px;fill:#1a1a1a"><circle cx="1255.2" cy="466.1" r="1.1"/><text x="1273.6" y="469.5">5</text><circle cx="1296.6" cy="466.1" r="2.1"/><text x="1315" y="469.5">50</text><circle cx="1343.8" cy="466.1" r="6.7"/><text x="1362.2" y="469.5">500</text><circle cx="1413.1" cy="466.1" r="20"/><text x="1448.2" y="469.5">5000</text></g>

<!-- ================= PANEL D ================= -->
<g transform="translate(0,501.2) scale(0.33234,0.31299)">
<g transform="translate(330,383)"><rect x="-38" y="-253" width="402" height="425" fill="url(#pD)"/></g>
<g transform="translate(762,383)"><rect x="-40" y="-253" width="405" height="425" fill="url(#pD)"/></g>
<g transform="translate(1192,383)"><rect x="-40" y="-253" width="405" height="425" fill="url(#pD)"/></g>
<g fill="#7f7f7f" fill-opacity=".5">
<polygon points="323,465 326,400 330,420 333,370 338,350 345,320 350,300 355,315 360,295 368,285 375,272 385,270 393,290 400,330 410,350 418,370 425,385 430,360 440,345 448,330 455,345 462,325 468,295 475,272 482,275 490,290 498,330 505,350 515,365 525,370 535,375 545,340 553,305 560,285 568,280 578,295 588,310 595,330 600,380 602,555 605,555 607,400 615,370 622,390 625,555 628,555 630,400 636,330 641,260 646,270 652,300 658,340 665,330 670,360 675,345 678,395 678,555 323,555"/>
<polygon points="750,550 755,520 760,460 765,455 770,410 778,380 785,360 795,350 805,345 815,350 825,370 835,385 845,390 855,395 862,410 870,390 880,388 888,345 895,325 903,312 912,325 922,365 932,400 942,420 952,432 962,430 970,440 977,465 985,400 995,355 1005,340 1015,350 1022,360 1030,400 1040,390 1048,430 1055,440 1060,390 1066,330 1070,305 1075,330 1082,360 1090,400 1098,430 1103,455 1107,440 1110,430 1110,555 750,555"/>
<polygon points="1180,555 1183,500 1187,410 1192,395 1198,385 1205,330 1212,320 1225,318 1240,320 1250,315 1258,325 1265,340 1275,355 1285,370 1295,385 1300,395 1305,370 1315,335 1325,300 1335,290 1345,280 1355,295 1365,320 1375,340 1385,355 1395,365 1405,350 1412,345 1418,300 1423,255 1430,245 1437,260 1443,310 1450,370 1458,420 1468,435 1478,445 1487,460 1492,420 1500,395 1505,310 1510,265 1515,275 1520,330 1528,360 1535,380 1540,420 1540,555"/>
</g>
<g fill="none" stroke="#333" stroke-width="7.8" stroke-linejoin="round">
<polyline points="323,465 326,400 330,420 333,370 338,350 345,320 350,300 355,315 360,295 368,285 375,272 385,270 393,290 400,330 410,350 418,370 425,385 430,360 440,345 448,330 455,345 462,325 468,295 475,272 482,275 490,290 498,330 505,350 515,365 525,370 535,375 545,340 553,305 560,285 568,280 578,295 588,310 595,330 600,380 602,555 605,555 607,400 615,370 622,390 625,555 628,555 630,400 636,330 641,260 646,270 652,300 658,340 665,330 670,360 675,345 678,395"/>
<polyline points="750,550 755,520 760,460 765,455 770,410 778,380 785,360 795,350 805,345 815,350 825,370 835,385 845,390 855,395 862,410 870,390 880,388 888,345 895,325 903,312 912,325 922,365 932,400 942,420 952,432 962,430 970,440 977,465 985,400 995,355 1005,340 1015,350 1022,360 1030,400 1040,390 1048,430 1055,440 1060,390 1066,330 1070,305 1075,330 1082,360 1090,400 1098,430 1103,455 1107,440 1110,430"/>
<polyline points="1180,555 1183,500 1187,410 1192,395 1198,385 1205,330 1212,320 1225,318 1240,320 1250,315 1258,325 1265,340 1275,355 1285,370 1295,385 1300,395 1305,370 1315,335 1325,300 1335,290 1345,280 1355,295 1365,320 1375,340 1385,355 1395,365 1405,350 1412,345 1418,300 1423,255 1430,245 1437,260 1443,310 1450,370 1458,420 1468,435 1478,445 1487,460 1492,420 1500,395 1505,310 1510,265 1515,275 1520,330 1528,360 1535,380 1540,420"/>
</g>
</g>
<g class="bb" transform="translate(0,501.2) scale(0.33234)">
<path fill="none" stroke="#d9d9d9" stroke-width="3.3" d="M280,623.5H694M722,623.5H1127M1152,623.5H1557M280,699.6H694M722,699.6H1127M1152,699.6H1557M280,775.1H694M722,775.1H1127M1152,775.1H1557M280,850.3H694M722,850.3H1127M1152,850.3H1557M280,925.9H694M722,925.9H1127M1152,925.9H1557M280,1002H694M722,1002H1127M1152,1002H1557M292,1043.5H694M722,1043.5H1127M1152,1043.5H1557M330,1043.5v12M374.3,1043.5v12M418.6,1043.5v12M462.9,1043.5v12M507.2,1043.5v12M551.6,1043.5v12M595.9,1043.5v12M640.2,1043.5v12M684.5,1043.5v12M762,1043.5v12M806.3,1043.5v12M850.6,1043.5v12M894.9,1043.5v12M939.2,1043.5v12M983.6,1043.5v12M1027.9,1043.5v12M1072.2,1043.5v12M1116.5,1043.5v12M1192,1043.5v12M1236.3,1043.5v12M1280.6,1043.5v12M1324.9,1043.5v12M1369.2,1043.5v12M1413.6,1043.5v12M1457.9,1043.5v12M1502.2,1043.5v12M1546.5,1043.5v12"/>
<g fill="#b6b6b6" fill-opacity=".75"><circle cx="315" cy="623.5" r="14"/><circle cx="343" cy="623.5" r="14"/><circle cx="372" cy="623.5" r="15"/><circle cx="386" cy="623.5" r="14"/><circle cx="402" cy="623.5" r="10"/><circle cx="415" cy="623.5" r="8"/><circle cx="432" cy="623.5" r="22"/><circle cx="462" cy="623.5" r="45"/><circle cx="475" cy="623.5" r="28"/><circle cx="490" cy="623.5" r="32"/><circle cx="505" cy="623.5" r="42"/><circle cx="520" cy="623.5" r="30"/><circle cx="535" cy="623.5" r="20"/><circle cx="550" cy="623.5" r="15"/><circle cx="567" cy="623.5" r="7"/><circle cx="580" cy="623.5" r="8"/><circle cx="596" cy="623.5" r="13"/><circle cx="611" cy="623.5" r="7"/><circle cx="626" cy="623.5" r="4"/>
<circle cx="741" cy="623.5" r="12"/><circle cx="754" cy="623.5" r="13"/><circle cx="767" cy="623.5" r="15"/><circle cx="780" cy="623.5" r="18"/><circle cx="795" cy="623.5" r="20"/><circle cx="808" cy="623.5" r="18"/><circle cx="822" cy="623.5" r="10"/><circle cx="837" cy="623.5" r="6"/><circle cx="850" cy="623.5" r="10"/><circle cx="865" cy="623.5" r="12"/><circle cx="893" cy="623.5" r="35"/><circle cx="910" cy="623.5" r="28"/><circle cx="922" cy="623.5" r="18"/><circle cx="937" cy="623.5" r="10"/><circle cx="953" cy="623.5" r="8"/><circle cx="968" cy="623.5" r="4"/><circle cx="983" cy="623.5" r="14"/><circle cx="998" cy="623.5" r="10"/><circle cx="1013" cy="623.5" r="8"/><circle cx="1028" cy="623.5" r="7"/><circle cx="1058" cy="623.5" r="17"/><circle cx="1088" cy="623.5" r="3"/><circle cx="1102" cy="623.5" r="7"/>
<circle cx="1180" cy="623.5" r="25"/><circle cx="1195" cy="623.5" r="30"/><circle cx="1210" cy="623.5" r="35"/><circle cx="1225" cy="623.5" r="25"/><circle cx="1240" cy="623.5" r="20"/><circle cx="1255" cy="623.5" r="15"/><circle cx="1265" cy="623.5" r="13"/><circle cx="1280" cy="623.5" r="10"/><circle cx="1295" cy="623.5" r="25"/><circle cx="1310" cy="623.5" r="38"/><circle cx="1325" cy="623.5" r="45"/><circle cx="1340" cy="623.5" r="35"/><circle cx="1355" cy="623.5" r="35"/><circle cx="1370" cy="623.5" r="30"/><circle cx="1385" cy="623.5" r="32"/><circle cx="1400" cy="623.5" r="32"/><circle cx="1415" cy="623.5" r="40"/><circle cx="1445" cy="623.5" r="13"/><circle cx="1460" cy="623.5" r="3"/><circle cx="1475" cy="623.5" r="3"/><circle cx="1490" cy="623.5" r="3"/></g>
<g fill="#2277b5" fill-opacity=".88"><circle cx="462" cy="775.1" r="15"/><circle cx="480" cy="775.1" r="22"/><circle cx="495" cy="775.1" r="20"/><circle cx="505" cy="775.1" r="17"/><circle cx="520" cy="775.1" r="15"/><circle cx="537" cy="775.1" r="11"/><circle cx="552" cy="775.1" r="5"/>
<circle cx="878" cy="775.1" r="8"/><circle cx="903" cy="775.1" r="42"/><circle cx="920" cy="775.1" r="22"/><circle cx="937" cy="775.1" r="9"/><circle cx="953" cy="775.1" r="5"/><circle cx="968" cy="775.1" r="5"/><circle cx="983" cy="775.1" r="7"/><circle cx="998" cy="775.1" r="8"/><circle cx="1013" cy="775.1" r="8"/><circle cx="1043" cy="775.1" r="5"/>
<circle cx="1180" cy="775.1" r="3"/><circle cx="1210" cy="775.1" r="4"/><circle cx="1327" cy="775.1" r="3"/><circle cx="1370" cy="775.1" r="20"/><circle cx="1385" cy="775.1" r="25"/><circle cx="1400" cy="775.1" r="27"/><circle cx="1415" cy="775.1" r="10"/></g>
<g fill="#97d38c" fill-opacity=".75"><circle cx="510" cy="850.3" r="10"/><circle cx="522" cy="850.3" r="20"/><circle cx="537" cy="850.3" r="40"/><circle cx="553" cy="850.3" r="50"/><circle cx="567" cy="850.3" r="45"/><circle cx="581" cy="850.3" r="40"/><circle cx="596" cy="850.3" r="35"/><circle cx="611" cy="850.3" r="22"/><circle cx="626" cy="850.3" r="10"/>
<circle cx="893" cy="850.3" r="8"/><circle cx="907" cy="850.3" r="10"/><circle cx="922" cy="850.3" r="10"/><circle cx="937" cy="850.3" r="9"/><circle cx="953" cy="850.3" r="14"/><circle cx="968" cy="850.3" r="20"/><circle cx="983" cy="850.3" r="55"/><circle cx="1013" cy="850.3" r="15"/><circle cx="1028" cy="850.3" r="30"/><circle cx="1043" cy="850.3" r="38"/><circle cx="1058" cy="850.3" r="37"/><circle cx="1073" cy="850.3" r="4"/>
<circle cx="1180" cy="850.3" r="5"/><circle cx="1195" cy="850.3" r="6"/><circle cx="1210" cy="850.3" r="5"/><circle cx="1342" cy="850.3" r="3"/><circle cx="1356" cy="850.3" r="3"/><circle cx="1370" cy="850.3" r="7"/><circle cx="1385" cy="850.3" r="15"/><circle cx="1400" cy="850.3" r="30"/><circle cx="1415" cy="850.3" r="55"/><circle cx="1445" cy="850.3" r="15"/><circle cx="1460" cy="850.3" r="13"/><circle cx="1475" cy="850.3" r="10"/><circle cx="1490" cy="850.3" r="8"/></g>
<g fill="#fcfcb0" fill-opacity=".8"><circle cx="463" cy="925.9" r="8"/><circle cx="478" cy="925.9" r="5"/><circle cx="492" cy="925.9" r="6"/><circle cx="507" cy="925.9" r="9"/><circle cx="522" cy="925.9" r="4"/><circle cx="537" cy="925.9" r="5"/><circle cx="910" cy="925.9" r="3"/><circle cx="985" cy="925.9" r="5"/><circle cx="1210" cy="925.9" r="4"/><circle cx="1327" cy="925.9" r="3"/><circle cx="1371" cy="925.9" r="3"/></g>
<g fill="#f79a4e" fill-opacity=".75"><circle cx="435" cy="1002" r="5"/><circle cx="448" cy="1002" r="12"/><circle cx="463" cy="1002" r="35"/><circle cx="478" cy="1002" r="38"/><circle cx="492" cy="1002" r="32"/><circle cx="507" cy="1002" r="25"/><circle cx="522" cy="1002" r="12"/><circle cx="537" cy="1002" r="5"/>
<circle cx="878" cy="1002" r="15"/><circle cx="893" cy="1002" r="35"/><circle cx="908" cy="1002" r="20"/><circle cx="922" cy="1002" r="10"/><circle cx="937" cy="1002" r="4"/><circle cx="953" cy="1002" r="3"/><circle cx="983" cy="1002" r="7"/>
<circle cx="1210" cy="1002" r="6"/><circle cx="1224" cy="1002" r="4"/><circle cx="1254" cy="1002" r="4"/><circle cx="1268" cy="1002" r="4"/><circle cx="1312" cy="1002" r="8"/><circle cx="1327" cy="1002" r="10"/><circle cx="1342" cy="1002" r="13"/><circle cx="1356" cy="1002" r="18"/><circle cx="1370" cy="1002" r="25"/><circle cx="1385" cy="1002" r="13"/><circle cx="1400" cy="1002" r="10"/><circle cx="1415" cy="1002" r="5"/></g>
<g fill="#e83889" fill-opacity=".7"><circle cx="626" cy="699.6" r="45"/><circle cx="611" cy="699.6" r="22"/>
<circle cx="998" cy="699.6" r="4"/><circle cx="1013" cy="699.6" r="8"/><circle cx="1028" cy="699.6" r="13"/><circle cx="1043" cy="699.6" r="22"/><circle cx="1073" cy="699.6" r="42"/><circle cx="1088" cy="699.6" r="5"/><circle cx="1102" cy="699.6" r="17"/>
<circle cx="1475" cy="699.6" r="5"/><circle cx="1490" cy="699.6" r="22"/><circle cx="1505" cy="699.6" r="25"/><circle cx="1520" cy="699.6" r="22"/><circle cx="1535" cy="699.6" r="17"/></g>
</g>
<text class="pl" transform="translate(11.5,532.5) scale(0.75,1)">D</text>
<g class="ft" text-anchor="middle"><text x="163.8" y="535.5">Ghana</text><text x="307.1" y="535.5">Nigeria</text><text x="450.3" y="535.5">Senegal</text></g>
<text class="yl" text-anchor="middle" transform="translate(20.9,607.9) rotate(-90)">Reported Daily Cases</text>
<text class="yl" text-anchor="middle" transform="translate(36.5,607.9) rotate(-90)">per Million</text>
<g class="yt" text-anchor="end"><text x="91.4" y="551.7">10<tspan dy="-4" font-size="7">3</tspan></text><text x="91.4" y="576">10<tspan dy="-4" font-size="7">2</tspan></text><text x="91.4" y="600.3">10<tspan dy="-4" font-size="7">1</tspan></text><text x="91.4" y="624.6">10<tspan dy="-4" font-size="7">0</tspan></text><text x="91.4" y="648.9">10<tspan dy="-4" font-size="7">−1</tspan></text><text x="91.4" y="673.1">10<tspan dy="-4" font-size="7">−2</tspan></text></g>
<g class="rl" text-anchor="end"><text x="88.4" y="712.7">Others</text><text x="88.4" y="738">Omicron</text><text x="88.4" y="763.1">Eta</text><text x="88.4" y="788.1">Delta</text><text x="88.4" y="813.2">Beta</text><text x="88.4" y="838.5">Alpha</text></g>
<g class="xt" text-anchor="end">
<text transform="translate(109.7,857.4) rotate(-90)" dy=".35em">Apr−2020</text><text transform="translate(124.4,857.4) rotate(-90)" dy=".35em">Jul−2020</text><text transform="translate(139.2,857.4) rotate(-90)" dy=".35em">Oct−2020</text><text transform="translate(153.9,857.4) rotate(-90)" dy=".35em">Jan−2021</text><text transform="translate(168.6,857.4) rotate(-90)" dy=".35em">Apr−2021</text><text transform="translate(183.4,857.4) rotate(-90)" dy=".35em">Jul−2021</text><text transform="translate(198.1,857.4) rotate(-90)" dy=".35em">Oct−2021</text><text transform="translate(212.8,857.4) rotate(-90)" dy=".35em">Jan−2022</text><text transform="translate(227.5,857.4) rotate(-90)" dy=".35em">Apr−2022</text>
<text transform="translate(253.2,857.4) rotate(-90)" dy=".35em">Apr−2020</text><text transform="translate(267.9,857.4) rotate(-90)" dy=".35em">Jul−2020</text><text transform="translate(282.7,857.4) rotate(-90)" dy=".35em">Oct−2020</text><text transform="translate(297.4,857.4) rotate(-90)" dy=".35em">Jan−2021</text><text transform="translate(312.1,857.4) rotate(-90)" dy=".35em">Apr−2021</text><text transform="translate(326.9,857.4) rotate(-90)" dy=".35em">Jul−2021</text><text transform="translate(341.6,857.4) rotate(-90)" dy=".35em">Oct−2021</text><text transform="translate(356.3,857.4) rotate(-90)" dy=".35em">Jan−2022</text><text transform="translate(371,857.4) rotate(-90)" dy=".35em">Apr−2022</text>
<text transform="translate(396.1,857.4) rotate(-90)" dy=".35em">Apr−2020</text><text transform="translate(410.8,857.4) rotate(-90)" dy=".35em">Jul−2020</text><text transform="translate(425.6,857.4) rotate(-90)" dy=".35em">Oct−2020</text><text transform="translate(440.3,857.4) rotate(-90)" dy=".35em">Jan−2021</text><text transform="translate(455,857.4) rotate(-90)" dy=".35em">Apr−2021</text><text transform="translate(469.8,857.4) rotate(-90)" dy=".35em">Jul−2021</text><text transform="translate(484.5,857.4) rotate(-90)" dy=".35em">Oct−2021</text><text transform="translate(499.2,857.4) rotate(-90)" dy=".35em">Jan−2022</text><text transform="translate(513.9,857.4) rotate(-90)" dy=".35em">Apr−2022</text></g>
<text class="sd" x="307.1" y="922.5" text-anchor="middle">Sampling Dates</text>
<g class="lg" style="font-size:11.6px;fill:#1a1a1a"><circle cx="234" cy="967.5" r="2"/><text x="252.6" y="971.6">5</text><circle cx="276.5" cy="967.5" r="6.6"/><text x="295.1" y="971.6">50</text><circle cx="343" cy="967.5" r="20"/><text x="378.2" y="971.6">500</text></g>

<!-- ================= PANEL E ================= -->
<g transform="translate(521.1,501.2) scale(0.33467,0.31299)">
<g transform="translate(335,383)"><rect x="-40" y="-253" width="402" height="425" fill="url(#pE)"/></g>
<g transform="translate(765,383)"><rect x="-43" y="-253" width="405" height="425" fill="url(#pE)"/></g>
<g transform="translate(1193,383)"><rect x="-41" y="-253" width="403" height="425" fill="url(#pE)"/></g>
<g fill="#008000" fill-opacity=".3">
<polygon points="323,555 327,470 330,420 335,350 340,360 345,330 352,335 358,310 365,300 372,290 376,330 378,555 380,555 382,300 388,330 395,345 402,350 410,360 418,370 425,355 432,370 440,350 448,320 455,345 465,340 468,555 472,555 476,310 480,330 482,555 484,555 485,300 490,310 494,555 497,555 500,270 505,280 508,235 510,555 513,555 515,260 517,555 519,555 521,285 525,290 527,555 530,555 532,330 540,360 544,555 547,555 550,370 554,555 557,555 560,345 565,320 569,555 572,555 575,340 581,555 585,555 588,350 595,300 598,260 601,555 603,555 605,280 612,300 618,340 625,360 630,345 635,555 638,555 640,360 644,555 647,555 650,275 655,300 659,555 661,555 662,340 668,380 672,410 675,420 678,555"/>
<polygon points="755,470 758,500 762,410 766,370 770,350 775,340 779,555 781,555 783,340 790,355 795,320 800,300 804,555 806,555 808,310 815,280 820,330 825,340 829,555 831,555 835,330 840,360 845,350 850,370 854,555 856,555 860,340 865,360 869,555 871,555 875,320 880,300 885,330 887,555 889,555 891,290 895,320 897,555 899,555 901,300 905,290 907,555 909,555 912,310 915,290 917,555 919,555 922,300 926,290 929,555 931,555 934,300 938,310 941,555 943,555 946,295 950,300 954,555 956,555 960,290 965,310 969,555 971,555 975,310 980,330 985,320 989,555 991,555 995,330 1000,350 1005,340 1011,555 1013,555 1015,340 1020,330 1025,290 1030,270 1035,280 1040,290 1048,310 1053,330 1058,320 1062,555 1064,555 1067,290 1072,270 1076,245 1080,270 1086,300 1092,340 1097,355 1100,380 1102,555 755,555"/>
<polygon points="1185,510 1188,470 1193,455 1200,420 1208,390 1215,370 1222,365 1228,375 1235,390 1242,400 1250,415 1258,425 1265,430 1272,440 1280,435 1290,430 1300,410 1308,375 1315,360 1325,350 1335,355 1345,375 1355,395 1362,385 1370,395 1378,380 1385,410 1392,405 1398,380 1405,340 1412,335 1420,340 1428,350 1438,375 1447,400 1452,440 1460,420 1468,430 1472,475 1478,420 1485,410 1490,350 1495,300 1500,300 1505,330 1512,370 1518,400 1522,440 1525,460 1530,430 1535,415 1535,555 1185,555"/>
</g>
<g fill="none" stroke="#008000" stroke-width="7.8" stroke-linejoin="round">
<polyline points="323,555 327,470 330,420 335,350 340,360 345,330 352,335 358,310 365,300 372,290 376,330 378,555 380,555 382,300 388,330 395,345 402,350 410,360 418,370 425,355 432,370 440,350 448,320 455,345 465,340 468,555 472,555 476,310 480,330 482,555 484,555 485,300 490,310 494,555 497,555 500,270 505,280 508,235 510,555 513,555 515,260 517,555 519,555 521,285 525,290 527,555 530,555 532,330 540,360 544,555 547,555 550,370 554,555 557,555 560,345 565,320 569,555 572,555 575,340 581,555 585,555 588,350 595,300 598,260 601,555 603,555 605,280 612,300 618,340 625,360 630,345 635,555 638,555 640,360 644,555 647,555 650,275 655,300 659,555 661,555 662,340 668,380 672,410 675,420 678,555"/>
<polyline points="755,470 758,500 762,410 766,370 770,350 775,340 779,555 781,555 783,340 790,355 795,320 800,300 804,555 806,555 808,310 815,280 820,330 825,340 829,555 831,555 835,330 840,360 845,350 850,370 854,555 856,555 860,340 865,360 869,555 871,555 875,320 880,300 885,330 887,555 889,555 891,290 895,320 897,555 899,555 901,300 905,290 907,555 909,555 912,310 915,290 917,555 919,555 922,300 926,290 929,555 931,555 934,300 938,310 941,555 943,555 946,295 950,300 954,555 956,555 960,290 965,310 969,555 971,555 975,310 980,330 985,320 989,555 991,555 995,330 1000,350 1005,340 1011,555 1013,555 1015,340 1020,330 1025,290 1030,270 1035,280 1040,290 1048,310 1053,330 1058,320 1062,555 1064,555 1067,290 1072,270 1076,245 1080,270 1086,300 1092,340 1097,355 1100,380 1102,555"/>
<polyline points="1185,510 1188,470 1193,455 1200,420 1208,390 1215,370 1222,365 1228,375 1235,390 1242,400 1250,415 1258,425 1265,430 1272,440 1280,435 1290,430 1300,410 1308,375 1315,360 1325,350 1335,355 1345,375 1355,395 1362,385 1370,395 1378,380 1385,410 1392,405 1398,380 1405,340 1412,335 1420,340 1428,350 1438,375 1447,400 1452,440 1460,420 1468,430 1472,475 1478,420 1485,410 1490,350 1495,300 1500,300 1505,330 1512,370 1518,400 1522,440 1525,460 1530,430 1535,415"/>
</g>
</g>
<g class="bb" transform="translate(521.1,501.2) scale(0.33467)">
<path fill="none" stroke="#d9d9d9" stroke-width="3.3" d="M282,619.1H697M722,619.1H1127M1152,619.1H1555M282,694.7H697M722,694.7H1127M1152,694.7H1555M282,769.7H697M722,769.7H1127M1152,769.7H1555M282,844.4H697M722,844.4H1127M1152,844.4H1555M282,919.4H697M722,919.4H1127M1152,919.4H1555M282,995H697M722,995H1127M1152,995H1555M295,1036.2H697M722,1036.2H1127M1152,1036.2H1555M335,1036.2v12M379.1,1036.2v12M423.2,1036.2v12M467.3,1036.2v12M511.4,1036.2v12M555.5,1036.2v12M599.6,1036.2v12M643.7,1036.2v12M687.8,1036.2v12M765,1036.2v12M809.1,1036.2v12M853.2,1036.2v12M897.3,1036.2v12M941.4,1036.2v12M985.5,1036.2v12M1029.6,1036.2v12M1073.7,1036.2v12M1117.8,1036.2v12M1193,1036.2v12M1237.1,1036.2v12M1281.2,1036.2v12M1325.3,1036.2v12M1369.4,1036.2v12M1413.5,1036.2v12M1457.6,1036.2v12M1501.7,1036.2v12M1545.8,1036.2v12"/>
<g fill="#b6b6b6" fill-opacity=".75"><circle cx="318" cy="619.1" r="7"/><circle cx="333" cy="619.1" r="8"/><circle cx="348" cy="619.1" r="12"/><circle cx="364" cy="619.1" r="8"/><circle cx="393" cy="619.1" r="4"/><circle cx="422" cy="619.1" r="8"/><circle cx="437" cy="619.1" r="8"/><circle cx="450" cy="619.1" r="12"/><circle cx="465" cy="619.1" r="20"/><circle cx="480" cy="619.1" r="22"/><circle cx="493" cy="619.1" r="14"/><circle cx="510" cy="619.1" r="10"/><circle cx="525" cy="619.1" r="5"/><circle cx="540" cy="619.1" r="3"/><circle cx="554" cy="619.1" r="4"/><circle cx="569" cy="619.1" r="12"/><circle cx="584" cy="619.1" r="9"/><circle cx="628" cy="619.1" r="6"/>
<circle cx="792" cy="619.1" r="6"/><circle cx="807" cy="619.1" r="4"/><circle cx="879" cy="619.1" r="14"/><circle cx="895" cy="619.1" r="14"/><circle cx="910" cy="619.1" r="20"/><circle cx="925" cy="619.1" r="8"/><circle cx="940" cy="619.1" r="7"/><circle cx="955" cy="619.1" r="7"/><circle cx="968" cy="619.1" r="8"/><circle cx="983" cy="619.1" r="4"/><circle cx="998" cy="619.1" r="6"/><circle cx="1013" cy="619.1" r="5"/><circle cx="1028" cy="619.1" r="10"/><circle cx="1042" cy="619.1" r="14"/><circle cx="1057" cy="619.1" r="23"/>
<circle cx="1180" cy="619.1" r="23"/><circle cx="1193" cy="619.1" r="35"/><circle cx="1207" cy="619.1" r="45"/><circle cx="1222" cy="619.1" r="8"/><circle cx="1325" cy="619.1" r="3"/><circle cx="1340" cy="619.1" r="9"/><circle cx="1354" cy="619.1" r="10"/><circle cx="1369" cy="619.1" r="9"/><circle cx="1383" cy="619.1" r="12"/><circle cx="1398" cy="619.1" r="8"/><circle cx="1413" cy="619.1" r="7"/><circle cx="1428" cy="619.1" r="3"/><circle cx="1457" cy="619.1" r="3"/><circle cx="1472" cy="619.1" r="16"/><circle cx="1487" cy="619.1" r="18"/><circle cx="1502" cy="619.1" r="3"/><circle cx="1517" cy="619.1" r="7"/></g>
<g fill="#e83889" fill-opacity=".7"><circle cx="628" cy="694.7" r="6"/><circle cx="968" cy="694.7" r="3"/><circle cx="998" cy="694.7" r="5"/><circle cx="1013" cy="694.7" r="3"/><circle cx="1028" cy="694.7" r="3"/><circle cx="1042" cy="694.7" r="4"/><circle cx="1057" cy="694.7" r="23"/><circle cx="1457" cy="694.7" r="3"/><circle cx="1472" cy="694.7" r="8"/><circle cx="1487" cy="694.7" r="15"/><circle cx="1502" cy="694.7" r="3"/><circle cx="1517" cy="694.7" r="7"/></g>
<g fill="#97d38c" fill-opacity=".75"><circle cx="510" cy="769.7" r="3"/><circle cx="525" cy="769.7" r="4"/><circle cx="540" cy="769.7" r="14"/><circle cx="554" cy="769.7" r="14"/><circle cx="569" cy="769.7" r="30"/><circle cx="584" cy="769.7" r="38"/><circle cx="613" cy="769.7" r="11"/>
<circle cx="925" cy="769.7" r="3"/><circle cx="955" cy="769.7" r="3"/><circle cx="968" cy="769.7" r="6"/><circle cx="983" cy="769.7" r="7"/><circle cx="998" cy="769.7" r="10"/><circle cx="1013" cy="769.7" r="15"/><circle cx="1028" cy="769.7" r="17"/><circle cx="1042" cy="769.7" r="12"/><circle cx="1057" cy="769.7" r="8"/>
<circle cx="1369" cy="769.7" r="6"/><circle cx="1383" cy="769.7" r="12"/><circle cx="1398" cy="769.7" r="25"/><circle cx="1413" cy="769.7" r="28"/><circle cx="1428" cy="769.7" r="14"/><circle cx="1442" cy="769.7" r="4"/><circle cx="1457" cy="769.7" r="4"/><circle cx="1472" cy="769.7" r="10"/><circle cx="1487" cy="769.7" r="3"/></g>
<g fill="#fcfcb0" fill-opacity=".8"><circle cx="466" cy="844.4" r="5"/><circle cx="481" cy="844.4" r="5"/><circle cx="495" cy="844.4" r="6"/><circle cx="510" cy="844.4" r="3"/><circle cx="525" cy="844.4" r="3"/><circle cx="569" cy="844.4" r="3"/><circle cx="584" cy="844.4" r="3"/><circle cx="1325" cy="844.4" r="3"/><circle cx="1354" cy="844.4" r="5"/><circle cx="1369" cy="844.4" r="3"/><circle cx="1383" cy="844.4" r="8"/><circle cx="1398" cy="844.4" r="3"/><circle cx="1413" cy="844.4" r="6"/></g>
<g fill="#cc2b2a" fill-opacity=".75"><circle cx="481" cy="919.4" r="3"/><circle cx="495" cy="919.4" r="7"/><circle cx="510" cy="919.4" r="7"/><circle cx="525" cy="919.4" r="10"/><circle cx="540" cy="919.4" r="10"/><circle cx="953" cy="919.4" r="17"/><circle cx="968" cy="919.4" r="18"/><circle cx="983" cy="919.4" r="9"/><circle cx="1398" cy="919.4" r="3"/><circle cx="1413" cy="919.4" r="3"/></g>
<g fill="#f79a4e" fill-opacity=".75"><circle cx="466" cy="995" r="6"/><circle cx="481" cy="995" r="8"/><circle cx="495" cy="995" r="4"/><circle cx="510" cy="995" r="8"/><circle cx="910" cy="995" r="3"/><circle cx="925" cy="995" r="5"/><circle cx="940" cy="995" r="6"/><circle cx="953" cy="995" r="10"/><circle cx="968" cy="995" r="10"/><circle cx="983" cy="995" r="3"/><circle cx="1325" cy="995" r="4"/><circle cx="1354" cy="995" r="4"/><circle cx="1383" cy="995" r="5"/></g>
</g>
<text class="pl" transform="translate(532.8,532.5) scale(0.75,1)">E</text>
<g class="ft" text-anchor="middle"><text x="687.1" y="535.5">Cameroon</text><text x="830.3" y="535.5">Congo</text><text x="973.2" y="535.5">DRC</text></g>
<text class="yl" text-anchor="middle" transform="translate(543.6,607.9) rotate(-90)">Reported Daily Cases</text>
<text class="yl" text-anchor="middle" transform="translate(559.2,607.9) rotate(-90)">per Million</text>
<g class="yt" text-anchor="end"><text x="613.1" y="551.7">10<tspan dy="-4" font-size="7">3</tspan></text><text x="613.1" y="576">10<tspan dy="-4" font-size="7">2</tspan></text><text x="613.1" y="600.3">10<tspan dy="-4" font-size="7">1</tspan></text><text x="613.1" y="624.6">10<tspan dy="-4" font-size="7">0</tspan></text><text x="613.1" y="648.9">10<tspan dy="-4" font-size="7">−1</tspan></text><text x="613.1" y="673.1">10<tspan dy="-4" font-size="7">−2</tspan></text></g>
<g class="rl" text-anchor="end"><text x="611.5" y="712.7">Others</text><text x="611.5" y="738">Omicron</text><text x="611.5" y="763.1">Delta</text><text x="611.5" y="788.1">Beta</text><text x="611.5" y="813.2">B.1.620</text><text x="611.5" y="838.5">Alpha</text></g>
<g class="xt" text-anchor="end">
<text transform="translate(633.2,857.4) rotate(-90)" dy=".35em">Apr−2020</text><text transform="translate(648,857.4) rotate(-90)" dy=".35em">Jul−2020</text><text transform="translate(662.7,857.4) rotate(-90)" dy=".35em">Oct−2020</text><text transform="translate(677.5,857.4) rotate(-90)" dy=".35em">Jan−2021</text><text transform="translate(692.2,857.4) rotate(-90)" dy=".35em">Apr−2021</text><text transform="translate(707,857.4) rotate(-90)" dy=".35em">Jul−2021</text><text transform="translate(721.8,857.4) rotate(-90)" dy=".35em">Oct−2021</text><text transform="translate(736.5,857.4) rotate(-90)" dy=".35em">Jan−2022</text><text transform="translate(751.3,857.4) rotate(-90)" dy=".35em">Apr−2022</text>
<text transform="translate(777.1,857.4) rotate(-90)" dy=".35em">Apr−2020</text><text transform="translate(791.9,857.4) rotate(-90)" dy=".35em">Jul−2020</text><text transform="translate(806.6,857.4) rotate(-90)" dy=".35em">Oct−2020</text><text transform="translate(821.4,857.4) rotate(-90)" dy=".35em">Jan−2021</text><text transform="translate(836.1,857.4) rotate(-90)" dy=".35em">Apr−2021</text><text transform="translate(850.9,857.4) rotate(-90)" dy=".35em">Jul−2021</text><text transform="translate(865.7,857.4) rotate(-90)" dy=".35em">Oct−2021</text><text transform="translate(880.4,857.4) rotate(-90)" dy=".35em">Jan−2022</text><text transform="translate(895.2,857.4) rotate(-90)" dy=".35em">Apr−2022</text>
<text transform="translate(920.4,857.4) rotate(-90)" dy=".35em">Apr−2020</text><text transform="translate(935.2,857.4) rotate(-90)" dy=".35em">Jul−2020</text><text transform="translate(949.9,857.4) rotate(-90)" dy=".35em">Oct−2020</text><text transform="translate(964.7,857.4) rotate(-90)" dy=".35em">Jan−2021</text><text transform="translate(979.4,857.4) rotate(-90)" dy=".35em">Apr−2021</text><text transform="translate(994.2,857.4) rotate(-90)" dy=".35em">Jul−2021</text><text transform="translate(1009,857.4) rotate(-90)" dy=".35em">Oct−2021</text><text transform="translate(1023.7,857.4) rotate(-90)" dy=".35em">Jan−2022</text><text transform="translate(1038.5,857.4) rotate(-90)" dy=".35em">Apr−2022</text></g>
<text class="sd" x="830.3" y="922.5" text-anchor="middle">Sampling Dates</text>
<g class="lg" style="font-size:11.6px;fill:#1a1a1a"><circle cx="757" cy="967.5" r="2"/><text x="775.4" y="971.6">5</text><circle cx="799.5" cy="967.5" r="6.7"/><text x="818.3" y="971.6">50</text><circle cx="866.1" cy="967.5" r="20"/><text x="901.6" y="971.6">500</text></g>

<!-- ================= PANEL F ================= -->
<g transform="translate(1043.3,501.2) scale(0.33467,0.31299)">
<g transform="translate(340,383)"><rect x="-43" y="-253" width="403" height="425" fill="url(#pF)"/></g>
<g transform="translate(768,383)"><rect x="-42" y="-253" width="402" height="425" fill="url(#pF)"/></g>
<g transform="translate(1195,383)"><rect x="-40" y="-253" width="400" height="425" fill="url(#pF)"/></g>
<g fill="#cd5555" fill-opacity=".3">
<polygon points="330,535 335,520 340,495 345,485 350,525 355,460 360,445 365,400 370,370 377,365 380,555 383,555 387,330 392,325 400,315 407,295 415,310 425,320 435,330 445,335 455,330 465,340 475,335 485,320 495,310 505,295 515,285 522,290 530,320 540,350 550,370 558,395 565,390 570,350 578,310 585,300 592,298 600,310 610,340 620,360 630,375 637,380 642,300 646,265 652,275 657,310 662,355 670,400 676,415 682,425 682,555 330,555"/>
<polygon points="760,520 763,460 768,430 772,420 778,400 785,370 793,350 800,335 808,315 815,300 822,295 830,310 838,335 845,350 852,340 860,320 868,295 875,280 882,285 890,305 897,340 905,350 912,355 920,345 930,310 937,280 943,275 950,290 957,315 965,325 972,305 980,300 988,305 995,295 1003,285 1010,275 1018,290 1025,305 1035,330 1045,355 1055,370 1062,390 1066,320 1070,250 1075,255 1080,290 1085,340 1092,370 1100,390 1107,405 1112,425 1112,555 760,555"/>
<polygon points="1190,470 1193,455 1196,520 1198,555 1201,555 1205,470 1210,440 1215,450 1218,555 1220,555 1222,400 1228,395 1235,425 1242,420 1248,460 1252,440 1258,405 1265,355 1272,340 1280,330 1287,350 1295,330 1302,320 1310,310 1318,300 1322,285 1327,305 1333,340 1340,375 1348,395 1355,405 1362,420 1368,415 1375,395 1382,385 1388,375 1393,355 1398,330 1403,290 1408,265 1413,270 1418,290 1425,325 1432,335 1440,345 1445,345 1452,355 1460,360 1468,375 1475,385 1485,395 1492,390 1498,340 1503,270 1508,265 1512,290 1518,340 1525,375 1530,395 1535,430 1538,410 1538,555 1190,555"/>
</g>
<g fill="none" stroke="#cd5555" stroke-width="7.8" stroke-linejoin="round">
<polyline points="330,535 335,520 340,495 345,485 350,525 355,460 360,445 365,400 370,370 377,365 380,555 383,555 387,330 392,325 400,315 407,295 415,310 425,320 435,330 445,335 455,330 465,340 475,335 485,320 495,310 505,295 515,285 522,290 530,320 540,350 550,370 558,395 565,390 570,350 578,310 585,300 592,298 600,310 610,340 620,360 630,375 637,380 642,300 646,265 652,275 657,310 662,355 670,400 676,415 682,425"/>
<polyline points="760,520 763,460 768,430 772,420 778,400 785,370 793,350 800,335 808,315 815,300 822,295 830,310 838,335 845,350 852,340 860,320 868,295 875,280 882,285 890,305 897,340 905,350 912,355 920,345 930,310 937,280 943,275 950,290 957,315 965,325 972,305 980,300 988,305 995,295 1003,285 1010,275 1018,290 1025,305 1035,330 1045,355 1055,370 1062,390 1066,320 1070,250 1075,255 1080,290 1085,340 1092,370 1100,390 1107,405 1112,425"/>
<polyline points="1190,470 1193,455 1196,520 1198,555 1201,555 1205,470 1210,440 1215,450 1218,555 1220,555 1222,400 1228,395 1235,425 1242,420 1248,460 1252,440 1258,405 1265,355 1272,340 1280,330 1287,350 1295,330 1302,320 1310,310 1318,300 1322,285 1327,305 1333,340 1340,375 1348,395 1355,405 1362,420 1368,415 1375,395 1382,385 1388,375 1393,355 1398,330 1403,290 1408,265 1413,270 1418,290 1425,325 1432,335 1440,345 1445,345 1452,355 1460,360 1468,375 1475,385 1485,395 1492,390 1498,340 1503,270 1508,265 1512,290 1518,340 1525,375 1530,395 1535,430 1538,410"/>
</g>
</g>
<g class="bb" transform="translate(1043.3,501.2) scale(0.33467)">
<path fill="none" stroke="#d9d9d9" stroke-width="3.3" d="M285,623.6H700M726,623.6H1128M1155,623.6H1555M285,706.1H700M726,706.1H1128M1155,706.1H1555M285,788.5H700M726,788.5H1128M1155,788.5H1555M285,870.7H700M726,870.7H1128M1155,870.7H1555M285,952.9H700M726,952.9H1128M1155,952.9H1555M285,1035.3H700M726,1035.3H1128M1155,1035.3H1555M297,1082.9H700M726,1082.9H1128M1155,1082.9H1555M340,1082.9v12M383.8,1082.9v12M427.6,1082.9v12M471.4,1082.9v12M515.2,1082.9v12M559,1082.9v12M602.8,1082.9v12M646.6,1082.9v12M690.4,1082.9v12M768,1082.9v12M811.8,1082.9v12M855.6,1082.9v12M899.4,1082.9v12M943.2,1082.9v12M987,1082.9v12M1030.8,1082.9v12M1074.6,1082.9v12M1118.4,1082.9v12M1195,1082.9v12M1238.8,1082.9v12M1282.6,1082.9v12M1326.4,1082.9v12M1370.2,1082.9v12M1414,1082.9v12M1457.8,1082.9v12M1501.6,1082.9v12M1545.4,1082.9v12"/>
<g fill="#b6b6b6" fill-opacity=".75"><circle cx="441" cy="623.6" r="3"/><circle cx="456" cy="623.6" r="4"/><circle cx="470" cy="623.6" r="5"/><circle cx="485" cy="623.6" r="5"/><circle cx="528" cy="623.6" r="4"/><circle cx="558" cy="623.6" r="10"/>
<circle cx="760" cy="623.6" r="15"/><circle cx="780" cy="623.6" r="25"/><circle cx="795" cy="623.6" r="22"/><circle cx="810" cy="623.6" r="22"/><circle cx="825" cy="623.6" r="22"/><circle cx="840" cy="623.6" r="25"/><circle cx="855" cy="623.6" r="45"/><circle cx="870" cy="623.6" r="45"/><circle cx="885" cy="623.6" r="25"/><circle cx="898" cy="623.6" r="15"/><circle cx="912" cy="623.6" r="10"/><circle cx="927" cy="623.6" r="12"/><circle cx="942" cy="623.6" r="10"/><circle cx="957" cy="623.6" r="5"/><circle cx="972" cy="623.6" r="3"/><circle cx="986" cy="623.6" r="7"/><circle cx="1001" cy="623.6" r="5"/><circle cx="1016" cy="623.6" r="3"/><circle cx="1031" cy="623.6" r="4"/><circle cx="1045" cy="623.6" r="3"/><circle cx="1060" cy="623.6" r="4"/><circle cx="1075" cy="623.6" r="6"/><circle cx="1090" cy="623.6" r="2"/>
<circle cx="1180" cy="623.6" r="8"/><circle cx="1195" cy="623.6" r="4"/><circle cx="1210" cy="623.6" r="9"/><circle cx="1240" cy="623.6" r="6"/><circle cx="1254" cy="623.6" r="12"/><circle cx="1269" cy="623.6" r="12"/><circle cx="1283" cy="623.6" r="8"/><circle cx="1298" cy="623.6" r="7"/><circle cx="1313" cy="623.6" r="5"/><circle cx="1327" cy="623.6" r="2"/><circle cx="1342" cy="623.6" r="5"/><circle cx="1356" cy="623.6" r="6"/><circle cx="1371" cy="623.6" r="7"/><circle cx="1386" cy="623.6" r="7"/><circle cx="1401" cy="623.6" r="6"/><circle cx="1415" cy="623.6" r="3"/><circle cx="1430" cy="623.6" r="3"/><circle cx="1489" cy="623.6" r="6"/></g>
<g fill="#97d38c" fill-opacity=".75"><circle cx="485" cy="788.5" r="3"/><circle cx="499" cy="788.5" r="3"/><circle cx="514" cy="788.5" r="4"/><circle cx="528" cy="788.5" r="6"/><circle cx="558" cy="788.5" r="20"/><circle cx="572" cy="788.5" r="30"/><circle cx="631" cy="788.5" r="3"/><circle cx="647" cy="788.5" r="3"/>
<circle cx="899" cy="788.5" r="5"/><circle cx="928" cy="788.5" r="2"/><circle cx="942" cy="788.5" r="15"/><circle cx="957" cy="788.5" r="35"/><circle cx="972" cy="788.5" r="45"/><circle cx="986" cy="788.5" r="48"/><circle cx="1001" cy="788.5" r="48"/><circle cx="1016" cy="788.5" r="38"/><circle cx="1031" cy="788.5" r="20"/><circle cx="1045" cy="788.5" r="17"/><circle cx="1060" cy="788.5" r="15"/><circle cx="1075" cy="788.5" r="3"/>
<circle cx="1371" cy="788.5" r="3"/><circle cx="1386" cy="788.5" r="20"/><circle cx="1401" cy="788.5" r="30"/><circle cx="1415" cy="788.5" r="12"/><circle cx="1430" cy="788.5" r="10"/><circle cx="1445" cy="788.5" r="4"/><circle cx="1459" cy="788.5" r="6"/><circle cx="1474" cy="788.5" r="11"/><circle cx="1489" cy="788.5" r="8"/></g>
<g fill="#fcfcb0" fill-opacity=".8"><circle cx="485" cy="870.7" r="3"/><circle cx="528" cy="870.7" r="3"/><circle cx="884" cy="870.7" r="4"/><circle cx="899" cy="870.7" r="8"/><circle cx="913" cy="870.7" r="12"/><circle cx="928" cy="870.7" r="17"/><circle cx="942" cy="870.7" r="15"/><circle cx="957" cy="870.7" r="11"/><circle cx="972" cy="870.7" r="7"/><circle cx="986" cy="870.7" r="3"/><circle cx="1342" cy="870.7" r="3"/><circle cx="1356" cy="870.7" r="6"/><circle cx="1371" cy="870.7" r="4"/><circle cx="1401" cy="870.7" r="4"/></g>
<g fill="#f79a4e" fill-opacity=".75"><circle cx="470" cy="952.9" r="3"/><circle cx="485" cy="952.9" r="6"/><circle cx="499" cy="952.9" r="4"/><circle cx="514" cy="952.9" r="4"/><circle cx="528" cy="952.9" r="6"/><circle cx="543" cy="952.9" r="5"/>
<circle cx="840" cy="952.9" r="3"/><circle cx="855" cy="952.9" r="3"/><circle cx="884" cy="952.9" r="4"/><circle cx="899" cy="952.9" r="10"/><circle cx="913" cy="952.9" r="15"/><circle cx="928" cy="952.9" r="37"/><circle cx="942" cy="952.9" r="30"/><circle cx="957" cy="952.9" r="28"/><circle cx="972" cy="952.9" r="17"/><circle cx="986" cy="952.9" r="9"/><circle cx="1001" cy="952.9" r="4"/><circle cx="1016" cy="952.9" r="4"/><circle cx="1031" cy="952.9" r="4"/><circle cx="1045" cy="952.9" r="4"/>
<circle cx="1356" cy="952.9" r="6"/><circle cx="1371" cy="952.9" r="3"/><circle cx="1386" cy="952.9" r="4"/><circle cx="1401" cy="952.9" r="3"/></g>
<g fill="#cc2b2a" fill-opacity=".75"><circle cx="855" cy="1035.3" r="3"/><circle cx="870" cy="1035.3" r="5"/><circle cx="884" cy="1035.3" r="6"/><circle cx="899" cy="1035.3" r="7"/><circle cx="913" cy="1035.3" r="8"/><circle cx="928" cy="1035.3" r="10"/><circle cx="942" cy="1035.3" r="4"/><circle cx="957" cy="1035.3" r="3"/>
<circle cx="1283" cy="1035.3" r="4"/><circle cx="1298" cy="1035.3" r="8"/><circle cx="1313" cy="1035.3" r="15"/><circle cx="1327" cy="1035.3" r="10"/><circle cx="1342" cy="1035.3" r="5"/><circle cx="1356" cy="1035.3" r="5"/><circle cx="1371" cy="1035.3" r="5"/><circle cx="1386" cy="1035.3" r="4"/><circle cx="1401" cy="1035.3" r="3"/></g>
<g fill="#e83889" fill-opacity=".7"><circle cx="630" cy="706.1" r="10"/><circle cx="646" cy="706.1" r="10"/><circle cx="661" cy="706.1" r="8"/><circle cx="899" cy="706.1" r="3"/><circle cx="1001" cy="706.1" r="3"/><circle cx="1045" cy="706.1" r="12"/><circle cx="1075" cy="706.1" r="45"/><circle cx="1090" cy="706.1" r="7"/><circle cx="1104" cy="706.1" r="7"/><circle cx="1474" cy="706.1" r="4"/><circle cx="1489" cy="706.1" r="9"/><circle cx="1504" cy="706.1" r="4"/></g>
</g>
<text class="pl" transform="translate(1056.7,532.5) scale(0.75,1)">F</text>
<g class="ft" text-anchor="middle"><text x="1210.3" y="535.5">Ethiopia</text><text x="1353.2" y="535.5">Kenya</text><text x="1496.4" y="535.5">Uganda</text></g>
<text class="yl" text-anchor="middle" transform="translate(1067.2,607.9) rotate(-90)">Reported Daily Cases</text>
<text class="yl" text-anchor="middle" transform="translate(1082.2,607.9) rotate(-90)">per Million</text>
<g class="yt" text-anchor="end"><text x="1137" y="551.7">10<tspan dy="-4" font-size="7">3</tspan></text><text x="1137" y="576">10<tspan dy="-4" font-size="7">2</tspan></text><text x="1137" y="600.3">10<tspan dy="-4" font-size="7">1</tspan></text><text x="1137" y="624.6">10<tspan dy="-4" font-size="7">0</tspan></text><text x="1137" y="648.9">10<tspan dy="-4" font-size="7">−1</tspan></text><text x="1137" y="673.1">10<tspan dy="-4" font-size="7">−2</tspan></text></g>
<g class="rl" text-anchor="end"><text x="1134.7" y="714.2">Others</text><text x="1134.7" y="741.8">Omicron</text><text x="1134.7" y="769.4">Delta</text><text x="1134.7" y="796.9">Beta</text><text x="1134.7" y="824.4">Alpha</text><text x="1134.7" y="852">A.23.1</text></g>
<g class="xt" text-anchor="end">
<text transform="translate(1157.1,873) rotate(-90)" dy=".35em">Apr−2020</text><text transform="translate(1171.8,873) rotate(-90)" dy=".35em">Jul−2020</text><text transform="translate(1186.4,873) rotate(-90)" dy=".35em">Oct−2020</text><text transform="translate(1201.1,873) rotate(-90)" dy=".35em">Jan−2021</text><text transform="translate(1215.7,873) rotate(-90)" dy=".35em">Apr−2021</text><text transform="translate(1230.4,873) rotate(-90)" dy=".35em">Jul−2021</text><text transform="translate(1245.1,873) rotate(-90)" dy=".35em">Oct−2021</text><text transform="translate(1259.7,873) rotate(-90)" dy=".35em">Jan−2022</text><text transform="translate(1274.4,873) rotate(-90)" dy=".35em">Apr−2022</text>
<text transform="translate(1300.3,873) rotate(-90)" dy=".35em">Apr−2020</text><text transform="translate(1315,873) rotate(-90)" dy=".35em">Jul−2020</text><text transform="translate(1329.6,873) rotate(-90)" dy=".35em">Oct−2020</text><text transform="translate(1344.3,873) rotate(-90)" dy=".35em">Jan−2021</text><text transform="translate(1358.9,873) rotate(-90)" dy=".35em">Apr−2021</text><text transform="translate(1373.6,873) rotate(-90)" dy=".35em">Jul−2021</text><text transform="translate(1388.3,873) rotate(-90)" dy=".35em">Oct−2021</text><text transform="translate(1402.9,873) rotate(-90)" dy=".35em">Jan−2022</text><text transform="translate(1417.6,873) rotate(-90)" dy=".35em">Apr−2022</text>
<text transform="translate(1443.2,873) rotate(-90)" dy=".35em">Apr−2020</text><text transform="translate(1457.9,873) rotate(-90)" dy=".35em">Jul−2020</text><text transform="translate(1472.5,873) rotate(-90)" dy=".35em">Oct−2020</text><text transform="translate(1487.2,873) rotate(-90)" dy=".35em">Jan−2021</text><text transform="translate(1501.8,873) rotate(-90)" dy=".35em">Apr−2021</text><text transform="translate(1516.5,873) rotate(-90)" dy=".35em">Jul−2021</text><text transform="translate(1531.2,873) rotate(-90)" dy=".35em">Oct−2021</text><text transform="translate(1545.8,873) rotate(-90)" dy=".35em">Jan−2022</text><text transform="translate(1560.5,873) rotate(-90)" dy=".35em">Apr−2022</text></g>
<text class="sd" x="1353.2" y="937.6" text-anchor="middle">Sampling Dates</text>
<g class="lg" style="font-size:11px;fill:#1a1a1a"><circle cx="1287.9" cy="975.4" r="1.7"/><text x="1306.4" y="979.4">5</text><circle cx="1330.5" cy="975.4" r="5"/><text x="1349.5" y="979.4">50</text><circle cx="1389.7" cy="975.4" r="14.7"/><text x="1417.1" y="979.4">500</text></g>
</svg>
</body></html>
